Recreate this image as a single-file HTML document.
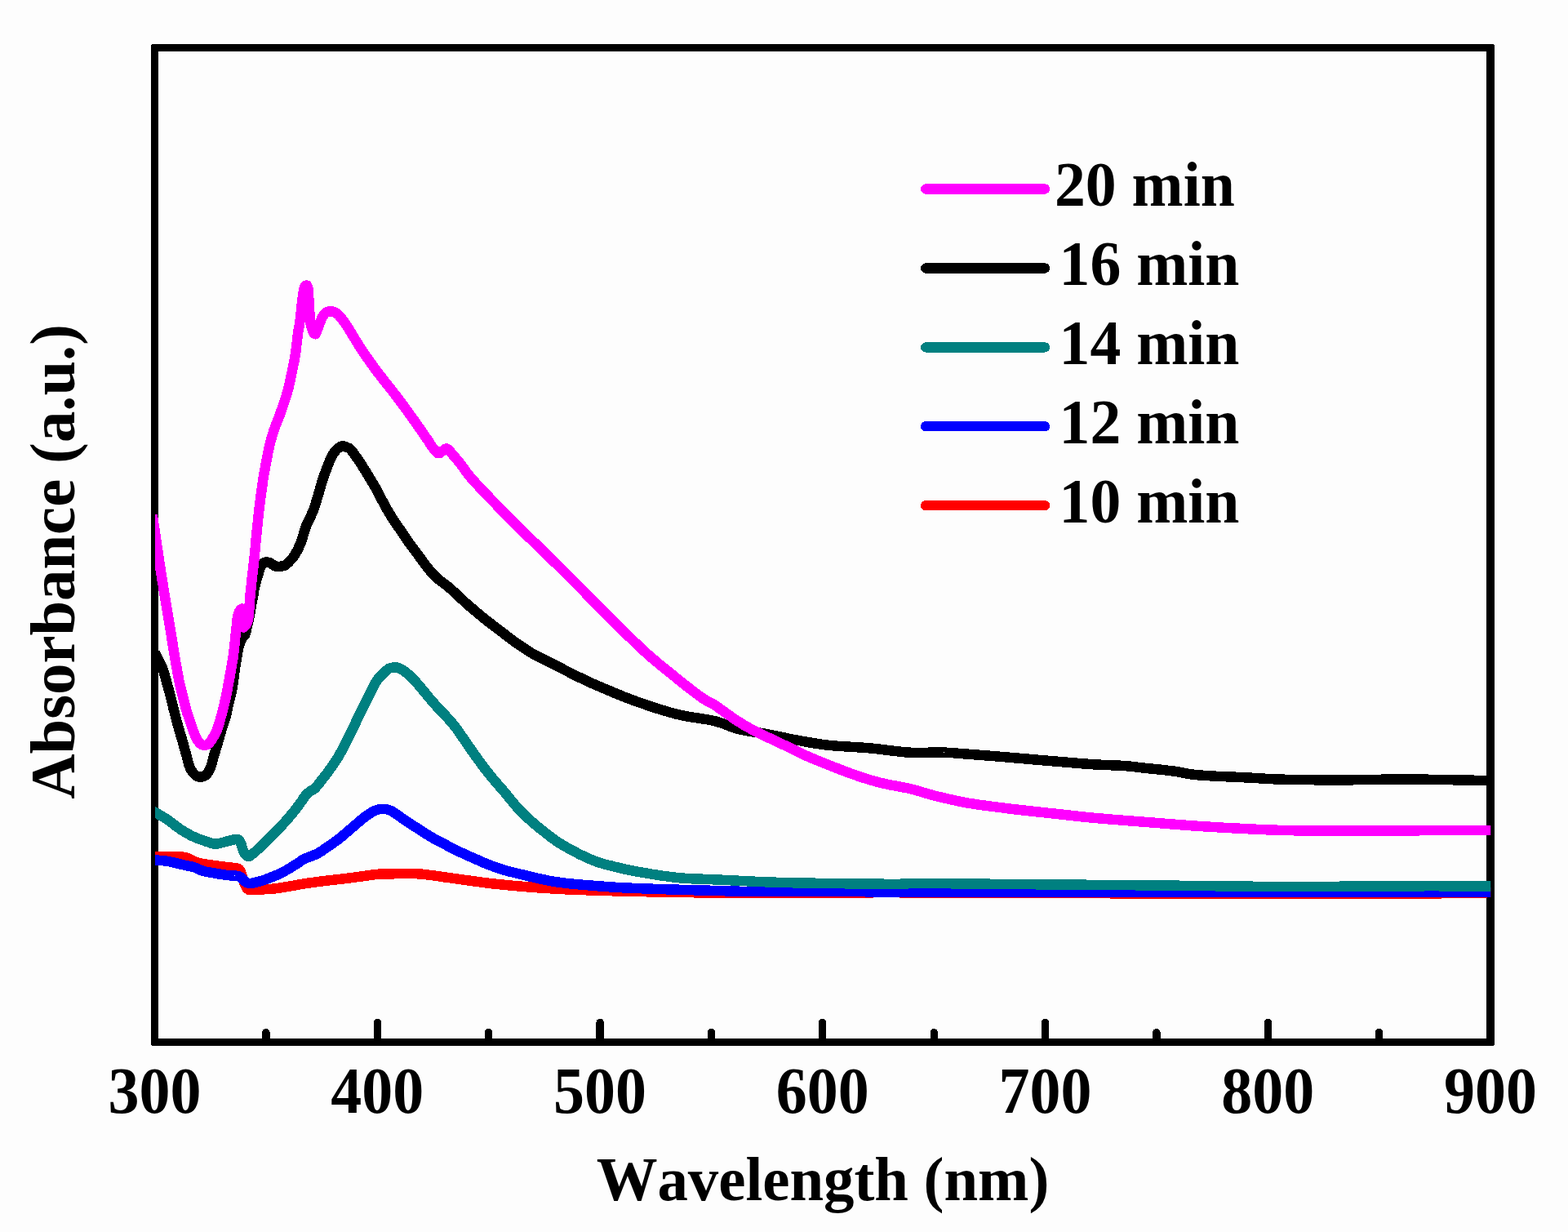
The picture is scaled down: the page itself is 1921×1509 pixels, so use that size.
<!DOCTYPE html>
<html lang="en"><head><meta charset="utf-8"><title>Absorbance vs Wavelength</title>
<style>
html,body{margin:0;padding:0;background:#fdfdfd;}
body{width:1921px;height:1509px;overflow:hidden;}
svg{display:block;}
text{font-family:"Liberation Serif","Times New Roman",serif;font-weight:bold;fill:#000;font-kerning:none;}
</style></head><body>
<svg shape-rendering="crispEdges" width="1921" height="1509" viewBox="0 0 1921 1509">
<rect x="0" y="0" width="1921" height="1509" fill="#fdfdfd"/>
<defs><clipPath id="plot"><rect x="190.0" y="58.35" width="1636.2" height="1218.10"/></clipPath></defs>

<path fill="#000" fill-rule="evenodd" d="M187.4,53.9 H1828.7 Q1830.9,53.9 1830.9,56.1 V1278.7 Q1830.9,1280.9 1828.7,1280.9 H187.4 Q185.2,1280.9 185.2,1278.7 V56.1 Q185.2,53.9 187.4,53.9 Z M193.9,62.8 V1272.0 H1821.1 V62.8 Z"/>
<g stroke="#000" stroke-width="9.3" stroke-linecap="round">
<line x1="325.92" y1="1276.45" x2="325.92" y2="1264.45"/>
<line x1="462.29" y1="1276.45" x2="462.29" y2="1252.35"/>
<line x1="598.66" y1="1276.45" x2="598.66" y2="1264.45"/>
<line x1="735.03" y1="1276.45" x2="735.03" y2="1252.35"/>
<line x1="871.40" y1="1276.45" x2="871.40" y2="1264.45"/>
<line x1="1007.78" y1="1276.45" x2="1007.78" y2="1252.35"/>
<line x1="1144.15" y1="1276.45" x2="1144.15" y2="1264.45"/>
<line x1="1280.52" y1="1276.45" x2="1280.52" y2="1252.35"/>
<line x1="1416.89" y1="1276.45" x2="1416.89" y2="1264.45"/>
<line x1="1553.26" y1="1276.45" x2="1553.26" y2="1252.35"/>
<line x1="1689.63" y1="1276.45" x2="1689.63" y2="1264.45"/>
</g>
<g clip-path="url(#plot)" fill="none" stroke-width="12.5" stroke-linejoin="round" stroke-linecap="butt">
<path stroke="#ff0000" d="M186.0,1049.7 L188.0,1049.7 L190.0,1049.7 L192.0,1049.7 L194.0,1049.7 L196.0,1049.7 L198.0,1049.7 L200.0,1049.7 L202.0,1049.7 L204.0,1049.7 L206.0,1049.7 L208.0,1049.7 L210.0,1049.7 L212.0,1049.7 L214.0,1049.7 L216.0,1049.7 L218.0,1049.6 L220.0,1049.6 L222.0,1049.6 L224.0,1049.7 L225.9,1050.0 L227.9,1050.4 L229.7,1051.1 L231.5,1051.9 L233.3,1052.8 L235.1,1053.7 L236.8,1054.6 L238.7,1055.4 L240.5,1056.1 L242.5,1056.6 L244.4,1057.1 L246.4,1057.5 L248.3,1057.9 L250.3,1058.2 L252.3,1058.5 L254.2,1058.8 L256.2,1059.1 L258.2,1059.4 L260.2,1059.7 L262.2,1059.9 L264.1,1060.2 L266.1,1060.5 L268.1,1060.8 L270.1,1061.0 L272.1,1061.3 L274.1,1061.5 L276.0,1061.8 L278.0,1062.0 L280.0,1062.3 L282.0,1062.5 L284.0,1062.7 L286.0,1062.9 L288.0,1063.0 L289.9,1063.3 L291.9,1063.9 L293.4,1065.1 L294.4,1066.8 L295.2,1068.7 L295.8,1070.6 L296.4,1072.5 L297.0,1074.4 L297.6,1076.3 L298.2,1078.2 L298.7,1080.1 L299.4,1082.0 L300.2,1083.9 L301.1,1085.6 L302.1,1087.3 L303.4,1088.9 L305.1,1089.9 L307.1,1090.2 L309.1,1090.0 L311.1,1090.0 L313.1,1089.9 L315.1,1089.7 L317.1,1089.6 L319.1,1089.5 L321.1,1089.4 L323.0,1089.3 L325.0,1089.2 L327.0,1089.2 L329.0,1089.1 L331.0,1089.0 L333.0,1088.8 L335.0,1088.6 L337.0,1088.4 L339.0,1088.1 L341.0,1087.8 L342.9,1087.5 L344.9,1087.2 L346.9,1086.9 L348.9,1086.5 L350.8,1086.2 L352.8,1085.8 L354.8,1085.5 L356.7,1085.1 L358.7,1084.8 L360.7,1084.5 L362.7,1084.1 L364.6,1083.8 L366.6,1083.4 L368.6,1083.1 L370.5,1082.8 L372.5,1082.5 L374.5,1082.1 L376.5,1081.8 L378.4,1081.5 L380.4,1081.3 L382.4,1081.0 L384.4,1080.7 L386.4,1080.4 L388.3,1080.2 L390.3,1079.9 L392.3,1079.7 L394.3,1079.4 L396.3,1079.2 L398.3,1079.0 L400.3,1078.7 L402.2,1078.5 L404.2,1078.2 L406.2,1078.0 L408.2,1077.8 L410.2,1077.6 L412.2,1077.3 L414.2,1077.1 L416.2,1076.9 L418.1,1076.6 L420.1,1076.4 L422.1,1076.2 L424.1,1075.9 L426.1,1075.7 L428.1,1075.4 L430.1,1075.2 L432.0,1074.9 L434.0,1074.7 L436.0,1074.4 L438.0,1074.1 L440.0,1073.9 L441.9,1073.6 L443.9,1073.3 L445.9,1073.0 L447.9,1072.7 L449.9,1072.4 L451.8,1072.2 L453.8,1071.9 L455.8,1071.6 L457.8,1071.4 L459.8,1071.1 L461.8,1070.9 L463.7,1070.7 L465.7,1070.5 L467.7,1070.4 L469.7,1070.3 L471.7,1070.3 L473.7,1070.3 L475.7,1070.3 L477.7,1070.3 L479.7,1070.3 L481.7,1070.3 L483.7,1070.2 L485.7,1070.2 L487.7,1070.1 L489.7,1070.1 L491.7,1070.0 L493.7,1070.0 L495.7,1069.9 L497.7,1069.9 L499.7,1069.9 L501.7,1069.9 L503.7,1069.9 L505.7,1070.0 L507.7,1070.1 L509.7,1070.2 L511.7,1070.3 L513.7,1070.4 L515.7,1070.6 L517.7,1070.8 L519.7,1071.0 L521.7,1071.2 L523.7,1071.4 L525.6,1071.7 L527.6,1072.0 L529.6,1072.2 L531.6,1072.5 L533.6,1072.8 L535.5,1073.0 L537.5,1073.3 L539.5,1073.6 L541.5,1073.9 L543.5,1074.2 L545.4,1074.5 L547.4,1074.8 L549.4,1075.0 L551.4,1075.3 L553.4,1075.6 L555.3,1075.8 L557.3,1076.1 L559.3,1076.4 L561.3,1076.7 L563.3,1076.9 L565.3,1077.2 L567.2,1077.5 L569.2,1077.8 L571.2,1078.0 L573.2,1078.3 L575.2,1078.6 L577.1,1078.9 L579.1,1079.2 L581.1,1079.4 L583.1,1079.7 L585.1,1080.0 L587.0,1080.2 L589.0,1080.5 L591.0,1080.8 L593.0,1081.0 L595.0,1081.3 L597.0,1081.5 L598.9,1081.8 L600.9,1082.0 L602.9,1082.3 L604.9,1082.5 L606.9,1082.7 L608.9,1082.9 L610.9,1083.1 L612.9,1083.3 L614.8,1083.5 L616.8,1083.7 L618.8,1083.9 L620.8,1084.1 L622.8,1084.3 L624.8,1084.5 L626.8,1084.7 L628.8,1084.9 L630.8,1085.1 L632.8,1085.2 L634.8,1085.4 L636.8,1085.6 L638.7,1085.7 L640.7,1085.9 L642.7,1086.1 L644.7,1086.2 L646.7,1086.4 L648.7,1086.5 L650.7,1086.7 L652.7,1086.8 L654.7,1087.0 L656.7,1087.1 L658.7,1087.3 L660.7,1087.4 L662.7,1087.5 L664.7,1087.7 L666.7,1087.8 L668.7,1087.9 L670.7,1088.1 L672.7,1088.2 L674.7,1088.3 L676.7,1088.4 L678.6,1088.6 L680.6,1088.7 L682.6,1088.8 L684.6,1088.9 L686.6,1089.0 L688.6,1089.1 L690.6,1089.2 L692.6,1089.3 L694.6,1089.4 L696.6,1089.4 L698.6,1089.5 L700.6,1089.6 L702.6,1089.7 L704.6,1089.8 L706.6,1089.9 L708.6,1089.9 L710.6,1090.0 L712.6,1090.1 L714.6,1090.2 L716.6,1090.2 L718.6,1090.3 L720.6,1090.4 L722.6,1090.4 L724.6,1090.5 L726.6,1090.6 L728.6,1090.6 L730.6,1090.7 L732.6,1090.7 L734.6,1090.8 L736.6,1090.9 L738.6,1090.9 L740.6,1091.0 L742.6,1091.0 L744.6,1091.1 L746.6,1091.2 L748.6,1091.2 L750.6,1091.3 L752.6,1091.3 L754.6,1091.4 L756.6,1091.4 L758.6,1091.5 L760.6,1091.5 L762.6,1091.6 L764.6,1091.6 L766.6,1091.7 L768.6,1091.7 L770.6,1091.8 L772.6,1091.8 L774.6,1091.9 L776.6,1091.9 L778.6,1092.0 L780.6,1092.0 L782.6,1092.1 L784.6,1092.1 L786.6,1092.2 L788.6,1092.2 L790.6,1092.2 L792.6,1092.3 L794.6,1092.3 L796.6,1092.4 L798.6,1092.4 L800.6,1092.5 L802.6,1092.5 L804.6,1092.6 L806.6,1092.6 L808.6,1092.6 L810.6,1092.7 L812.6,1092.7 L814.6,1092.8 L816.6,1092.8 L818.6,1092.8 L820.6,1092.9 L822.6,1092.9 L824.6,1092.9 L826.6,1093.0 L828.6,1093.0 L830.6,1093.0 L832.6,1093.1 L834.6,1093.1 L836.6,1093.1 L838.6,1093.1 L840.6,1093.2 L842.6,1093.2 L844.6,1093.2 L846.6,1093.2 L848.6,1093.2 L850.6,1093.3 L852.6,1093.3 L854.6,1093.3 L856.6,1093.3 L858.6,1093.3 L860.6,1093.3 L862.6,1093.3 L864.6,1093.4 L866.6,1093.4 L868.6,1093.4 L870.6,1093.4 L872.6,1093.4 L874.6,1093.4 L876.6,1093.4 L878.6,1093.4 L880.6,1093.4 L882.6,1093.4 L884.6,1093.4 L886.6,1093.4 L888.6,1093.4 L890.6,1093.4 L892.6,1093.4 L894.6,1093.4 L896.6,1093.4 L898.6,1093.4 L900.6,1093.4 L902.6,1093.4 L904.6,1093.4 L906.6,1093.4 L908.6,1093.4 L910.6,1093.3 L912.6,1093.3 L914.6,1093.3 L916.6,1093.3 L918.6,1093.3 L920.6,1093.3 L922.6,1093.3 L924.6,1093.3 L926.6,1093.3 L928.6,1093.3 L930.6,1093.3 L932.6,1093.3 L934.6,1093.3 L936.6,1093.3 L938.6,1093.3 L940.6,1093.3 L942.6,1093.3 L944.6,1093.3 L946.6,1093.3 L948.6,1093.3 L950.6,1093.3 L952.6,1093.3 L954.6,1093.3 L956.6,1093.3 L958.6,1093.3 L960.6,1093.3 L962.6,1093.3 L964.6,1093.3 L966.6,1093.3 L968.6,1093.3 L970.6,1093.3 L972.6,1093.3 L974.6,1093.3 L976.6,1093.3 L978.6,1093.3 L980.6,1093.3 L982.6,1093.3 L984.6,1093.3 L986.6,1093.3 L988.6,1093.3 L990.6,1093.3 L992.6,1093.3 L994.6,1093.3 L996.6,1093.3 L998.6,1093.3 L1000.6,1093.3 L1002.6,1093.3 L1004.6,1093.3 L1006.6,1093.3 L1008.6,1093.3 L1010.6,1093.3 L1012.6,1093.3 L1014.6,1093.3 L1016.6,1093.3 L1018.6,1093.3 L1020.6,1093.3 L1022.6,1093.3 L1024.6,1093.3 L1026.6,1093.3 L1028.6,1093.3 L1030.6,1093.3 L1032.6,1093.3 L1034.6,1093.3 L1036.6,1093.3 L1038.6,1093.3 L1040.6,1093.3 L1042.6,1093.3 L1044.6,1093.3 L1046.6,1093.3 L1048.6,1093.3 L1050.6,1093.3 L1052.6,1093.3 L1054.6,1093.3 L1056.6,1093.3 L1058.6,1093.3 L1060.6,1093.3 L1062.6,1093.3 L1064.6,1093.3 L1066.6,1093.3 L1068.6,1093.3 L1070.6,1093.2 L1072.6,1093.2 L1074.6,1093.2 L1076.6,1093.2 L1078.6,1093.2 L1080.6,1093.2 L1082.6,1093.2 L1084.6,1093.2 L1086.6,1093.2 L1088.6,1093.2 L1090.6,1093.2 L1092.6,1093.2 L1094.6,1093.2 L1096.6,1093.2 L1098.6,1093.2 L1100.6,1093.2 L1102.6,1093.3 L1104.6,1093.3 L1106.6,1093.3 L1108.6,1093.3 L1110.6,1093.3 L1112.6,1093.3 L1114.6,1093.3 L1116.6,1093.3 L1118.6,1093.3 L1120.6,1093.3 L1122.6,1093.3 L1124.6,1093.3 L1126.6,1093.3 L1128.6,1093.3 L1130.6,1093.3 L1132.6,1093.3 L1134.6,1093.3 L1136.6,1093.3 L1138.6,1093.3 L1140.6,1093.3 L1142.6,1093.3 L1144.6,1093.3 L1146.6,1093.3 L1148.6,1093.3 L1150.6,1093.3 L1152.6,1093.3 L1154.6,1093.3 L1156.6,1093.3 L1158.6,1093.3 L1160.6,1093.3 L1162.6,1093.3 L1164.6,1093.3 L1166.6,1093.3 L1168.6,1093.3 L1170.6,1093.3 L1172.6,1093.3 L1174.6,1093.3 L1176.6,1093.3 L1178.6,1093.3 L1180.6,1093.3 L1182.6,1093.4 L1184.6,1093.4 L1186.6,1093.4 L1188.6,1093.4 L1190.6,1093.4 L1192.6,1093.4 L1194.6,1093.4 L1196.6,1093.4 L1198.6,1093.4 L1200.6,1093.4 L1202.6,1093.4 L1204.6,1093.4 L1206.6,1093.4 L1208.6,1093.4 L1210.6,1093.4 L1212.6,1093.4 L1214.6,1093.5 L1216.6,1093.5 L1218.6,1093.5 L1220.6,1093.5 L1222.6,1093.5 L1224.6,1093.5 L1226.6,1093.5 L1228.6,1093.5 L1230.6,1093.5 L1232.6,1093.5 L1234.6,1093.5 L1236.6,1093.5 L1238.6,1093.6 L1240.6,1093.6 L1242.6,1093.6 L1244.6,1093.6 L1246.6,1093.6 L1248.6,1093.6 L1250.6,1093.6 L1252.6,1093.6 L1254.6,1093.6 L1256.6,1093.6 L1258.6,1093.7 L1260.6,1093.7 L1262.6,1093.7 L1264.6,1093.7 L1266.6,1093.7 L1268.6,1093.7 L1270.6,1093.7 L1272.6,1093.7 L1274.6,1093.7 L1276.6,1093.8 L1278.6,1093.8 L1280.6,1093.8 L1282.6,1093.8 L1284.6,1093.8 L1286.6,1093.8 L1288.6,1093.8 L1290.6,1093.8 L1292.6,1093.8 L1294.6,1093.9 L1296.6,1093.9 L1298.6,1093.9 L1300.6,1093.9 L1302.6,1093.9 L1304.6,1093.9 L1306.6,1093.9 L1308.6,1093.9 L1310.6,1093.9 L1312.6,1094.0 L1314.6,1094.0 L1316.6,1094.0 L1318.6,1094.0 L1320.6,1094.0 L1322.6,1094.0 L1324.6,1094.0 L1326.6,1094.0 L1328.6,1094.1 L1330.6,1094.1 L1332.6,1094.1 L1334.6,1094.1 L1336.6,1094.1 L1338.6,1094.1 L1340.6,1094.1 L1342.6,1094.1 L1344.6,1094.2 L1346.6,1094.2 L1348.6,1094.2 L1350.6,1094.2 L1352.6,1094.2 L1354.6,1094.2 L1356.6,1094.2 L1358.6,1094.2 L1360.6,1094.3 L1362.6,1094.3 L1364.6,1094.3 L1366.6,1094.3 L1368.6,1094.3 L1370.6,1094.3 L1372.6,1094.3 L1374.6,1094.3 L1376.6,1094.4 L1378.6,1094.4 L1380.6,1094.4 L1382.6,1094.4 L1384.6,1094.4 L1386.6,1094.4 L1388.6,1094.4 L1390.6,1094.4 L1392.6,1094.5 L1394.6,1094.5 L1396.6,1094.5 L1398.6,1094.5 L1400.6,1094.5 L1402.6,1094.5 L1404.6,1094.5 L1406.6,1094.5 L1408.6,1094.5 L1410.6,1094.6 L1412.6,1094.6 L1414.6,1094.6 L1416.6,1094.6 L1418.6,1094.6 L1420.6,1094.6 L1422.6,1094.6 L1424.6,1094.6 L1426.6,1094.7 L1428.6,1094.7 L1430.6,1094.7 L1432.6,1094.7 L1434.6,1094.7 L1436.6,1094.7 L1438.6,1094.7 L1440.6,1094.7 L1442.6,1094.7 L1444.6,1094.8 L1446.6,1094.8 L1448.6,1094.8 L1450.6,1094.8 L1452.6,1094.8 L1454.6,1094.8 L1456.6,1094.8 L1458.6,1094.8 L1460.6,1094.8 L1462.6,1094.8 L1464.6,1094.9 L1466.6,1094.9 L1468.6,1094.9 L1470.6,1094.9 L1472.6,1094.9 L1474.6,1094.9 L1476.6,1094.9 L1478.6,1094.9 L1480.6,1094.9 L1482.6,1094.9 L1484.6,1094.9 L1486.6,1094.9 L1488.6,1095.0 L1490.6,1095.0 L1492.6,1095.0 L1494.6,1095.0 L1496.6,1095.0 L1498.6,1095.0 L1500.6,1095.0 L1502.6,1095.0 L1504.6,1095.0 L1506.6,1095.0 L1508.6,1095.0 L1510.6,1095.0 L1512.6,1095.0 L1514.6,1095.0 L1516.6,1095.1 L1518.6,1095.1 L1520.6,1095.1 L1522.6,1095.1 L1524.6,1095.1 L1526.6,1095.1 L1528.6,1095.1 L1530.6,1095.1 L1532.6,1095.1 L1534.6,1095.1 L1536.6,1095.1 L1538.6,1095.1 L1540.6,1095.1 L1542.6,1095.1 L1544.6,1095.1 L1546.6,1095.1 L1548.6,1095.1 L1550.6,1095.1 L1552.6,1095.1 L1554.6,1095.2 L1556.6,1095.2 L1558.6,1095.2 L1560.6,1095.2 L1562.6,1095.2 L1564.6,1095.2 L1566.6,1095.2 L1568.6,1095.2 L1570.6,1095.2 L1572.6,1095.2 L1574.6,1095.2 L1576.6,1095.2 L1578.6,1095.2 L1580.6,1095.2 L1582.6,1095.2 L1584.6,1095.2 L1586.6,1095.2 L1588.6,1095.2 L1590.6,1095.2 L1592.6,1095.2 L1594.6,1095.2 L1596.6,1095.2 L1598.6,1095.2 L1600.6,1095.2 L1602.6,1095.2 L1604.6,1095.2 L1606.6,1095.2 L1608.6,1095.2 L1610.6,1095.2 L1612.6,1095.2 L1614.6,1095.2 L1616.6,1095.2 L1618.6,1095.2 L1620.6,1095.2 L1622.6,1095.2 L1624.6,1095.2 L1626.6,1095.2 L1628.6,1095.2 L1630.6,1095.2 L1632.6,1095.2 L1634.6,1095.2 L1636.6,1095.2 L1638.6,1095.2 L1640.6,1095.2 L1642.6,1095.2 L1644.6,1095.2 L1646.6,1095.2 L1648.6,1095.2 L1650.6,1095.2 L1652.6,1095.2 L1654.6,1095.2 L1656.6,1095.2 L1658.6,1095.2 L1660.6,1095.2 L1662.6,1095.2 L1664.6,1095.2 L1666.6,1095.1 L1668.6,1095.1 L1670.6,1095.1 L1672.6,1095.1 L1674.6,1095.1 L1676.6,1095.1 L1678.6,1095.1 L1680.6,1095.1 L1682.6,1095.1 L1684.6,1095.1 L1686.6,1095.1 L1688.6,1095.1 L1690.6,1095.1 L1692.6,1095.0 L1694.6,1095.0 L1696.6,1095.0 L1698.6,1095.0 L1700.6,1095.0 L1702.6,1095.0 L1704.6,1095.0 L1706.6,1095.0 L1708.6,1094.9 L1710.6,1094.9 L1712.6,1094.9 L1714.6,1094.9 L1716.6,1094.9 L1718.6,1094.9 L1720.6,1094.8 L1722.6,1094.8 L1724.6,1094.8 L1726.6,1094.8 L1728.6,1094.7 L1730.6,1094.7 L1732.6,1094.7 L1734.6,1094.7 L1736.6,1094.7 L1738.6,1094.6 L1740.6,1094.6 L1742.6,1094.6 L1744.6,1094.6 L1746.6,1094.5 L1748.6,1094.5 L1750.6,1094.5 L1752.6,1094.4 L1754.6,1094.4 L1756.6,1094.4 L1758.6,1094.3 L1760.6,1094.3 L1762.6,1094.3 L1764.6,1094.3 L1766.6,1094.2 L1768.6,1094.2 L1770.6,1094.2 L1772.6,1094.1 L1774.6,1094.1 L1776.6,1094.1 L1778.6,1094.0 L1780.6,1094.0 L1782.6,1094.0 L1784.6,1093.9 L1786.6,1093.9 L1788.6,1093.8 L1790.6,1093.8 L1792.6,1093.8 L1794.6,1093.7 L1796.6,1093.7 L1798.6,1093.7 L1800.6,1093.6 L1802.6,1093.6 L1804.6,1093.6 L1806.6,1093.5 L1808.6,1093.5 L1810.6,1093.4 L1812.6,1093.4 L1814.6,1093.4 L1816.6,1093.3 L1818.6,1093.3 L1820.6,1093.3 L1822.6,1093.2 L1824.6,1093.2 L1826.6,1093.1 L1828.5,1093.1 L1830.5,1093.1 L1832.4,1093.0 L1834.1,1093.0 L1835.0,1093.0"/>
<path stroke="#0000ff" d="M186.0,1053.5 L188.0,1053.4 L190.0,1053.5 L192.0,1053.6 L194.0,1053.7 L196.0,1053.8 L198.0,1054.0 L200.0,1054.2 L202.0,1054.4 L203.9,1054.7 L205.9,1055.0 L207.9,1055.4 L209.8,1055.8 L211.8,1056.3 L213.7,1056.7 L215.6,1057.2 L217.6,1057.7 L219.5,1058.2 L221.5,1058.7 L223.4,1059.1 L225.4,1059.5 L227.3,1059.9 L229.3,1060.3 L231.3,1060.7 L233.2,1061.1 L235.2,1061.5 L237.1,1062.1 L239.0,1062.7 L240.8,1063.5 L242.6,1064.4 L244.4,1065.2 L246.2,1066.0 L248.1,1066.6 L250.0,1067.1 L251.9,1067.6 L253.9,1068.0 L255.9,1068.3 L257.8,1068.7 L259.8,1069.0 L261.8,1069.3 L263.8,1069.7 L265.7,1070.0 L267.7,1070.4 L269.7,1070.7 L271.6,1071.0 L273.6,1071.3 L275.6,1071.6 L277.6,1071.9 L279.6,1072.1 L281.5,1072.3 L283.5,1072.5 L285.5,1072.6 L287.5,1072.7 L289.5,1072.7 L291.5,1073.0 L293.4,1073.5 L295.1,1074.7 L296.6,1076.0 L297.9,1077.5 L299.3,1078.9 L300.9,1080.1 L302.6,1081.2 L304.4,1081.9 L306.4,1082.0 L308.4,1081.8 L310.4,1081.4 L312.3,1080.9 L314.3,1080.5 L316.2,1080.1 L318.1,1079.5 L320.1,1079.0 L322.0,1078.4 L323.9,1077.7 L325.7,1077.0 L327.6,1076.3 L329.5,1075.6 L331.3,1074.9 L333.2,1074.1 L335.1,1073.4 L336.9,1072.7 L338.8,1071.9 L340.6,1071.2 L342.4,1070.4 L344.3,1069.5 L346.0,1068.6 L347.8,1067.6 L349.5,1066.6 L351.2,1065.6 L353.0,1064.6 L354.7,1063.6 L356.4,1062.5 L358.1,1061.5 L359.8,1060.4 L361.5,1059.3 L363.1,1058.3 L364.8,1057.2 L366.5,1056.1 L368.1,1054.9 L369.8,1053.8 L371.5,1052.8 L373.2,1051.8 L375.0,1051.0 L376.9,1050.3 L378.8,1049.6 L380.7,1049.0 L382.5,1048.3 L384.4,1047.5 L386.2,1046.7 L388.0,1045.9 L389.8,1045.0 L391.5,1044.0 L393.2,1042.9 L394.9,1041.8 L396.5,1040.6 L398.2,1039.5 L399.8,1038.4 L401.5,1037.2 L403.1,1036.1 L404.8,1035.0 L406.4,1033.9 L408.1,1032.7 L409.7,1031.5 L411.3,1030.4 L412.9,1029.2 L414.5,1027.9 L416.1,1026.7 L417.6,1025.4 L419.2,1024.2 L420.7,1022.9 L422.2,1021.6 L423.7,1020.3 L425.3,1019.0 L426.8,1017.7 L428.3,1016.4 L429.8,1015.1 L431.4,1013.8 L432.9,1012.5 L434.4,1011.2 L435.9,1009.9 L437.4,1008.6 L439.0,1007.3 L440.5,1006.0 L442.0,1004.7 L443.5,1003.4 L445.1,1002.2 L446.6,1000.9 L448.2,999.7 L449.8,998.5 L451.5,997.4 L453.2,996.3 L454.9,995.3 L456.6,994.4 L458.4,993.5 L460.2,992.6 L462.1,991.9 L464.0,991.3 L466.0,991.0 L468.0,990.8 L470.0,990.8 L472.0,990.9 L473.9,991.3 L475.8,991.9 L477.7,992.6 L479.5,993.4 L481.3,994.4 L483.0,995.4 L484.7,996.5 L486.3,997.6 L487.9,998.8 L489.6,999.9 L491.2,1001.1 L492.8,1002.3 L494.5,1003.4 L496.1,1004.6 L497.8,1005.7 L499.4,1006.8 L501.1,1007.9 L502.8,1009.0 L504.4,1010.1 L506.1,1011.2 L507.8,1012.3 L509.5,1013.3 L511.2,1014.4 L512.8,1015.5 L514.5,1016.6 L516.2,1017.7 L517.9,1018.7 L519.6,1019.8 L521.3,1020.9 L523.0,1021.9 L524.7,1023.0 L526.4,1024.0 L528.1,1025.1 L529.8,1026.1 L531.6,1027.1 L533.3,1028.0 L535.1,1029.0 L536.8,1029.9 L538.6,1030.9 L540.4,1031.8 L542.1,1032.7 L543.9,1033.6 L545.7,1034.5 L547.5,1035.5 L549.2,1036.4 L551.0,1037.3 L552.8,1038.2 L554.6,1039.1 L556.4,1040.0 L558.1,1040.9 L559.9,1041.8 L561.7,1042.7 L563.5,1043.6 L565.3,1044.4 L567.2,1045.3 L569.0,1046.1 L570.8,1046.9 L572.6,1047.7 L574.5,1048.6 L576.3,1049.4 L578.1,1050.2 L579.9,1051.0 L581.8,1051.8 L583.6,1052.6 L585.4,1053.4 L587.2,1054.3 L589.1,1055.1 L590.9,1055.9 L592.7,1056.7 L594.6,1057.4 L596.4,1058.2 L598.3,1058.9 L600.1,1059.7 L602.0,1060.4 L603.9,1061.1 L605.8,1061.7 L607.7,1062.4 L609.6,1063.1 L611.5,1063.7 L613.4,1064.3 L615.3,1064.9 L617.2,1065.5 L619.1,1066.1 L621.0,1066.6 L622.9,1067.2 L624.9,1067.7 L626.8,1068.1 L628.8,1068.6 L630.7,1069.1 L632.6,1069.5 L634.6,1070.0 L636.5,1070.5 L638.5,1071.0 L640.4,1071.4 L642.4,1071.9 L644.3,1072.4 L646.3,1072.8 L648.2,1073.3 L650.1,1073.8 L652.1,1074.2 L654.0,1074.7 L656.0,1075.1 L657.9,1075.6 L659.9,1076.0 L661.8,1076.4 L663.8,1076.9 L665.8,1077.3 L667.7,1077.7 L669.7,1078.1 L671.6,1078.5 L673.6,1078.9 L675.6,1079.2 L677.5,1079.6 L679.5,1079.9 L681.5,1080.2 L683.5,1080.5 L685.4,1080.8 L687.4,1081.1 L689.4,1081.3 L691.4,1081.6 L693.4,1081.8 L695.4,1082.0 L697.3,1082.3 L699.3,1082.5 L701.3,1082.7 L703.3,1082.8 L705.3,1083.0 L707.3,1083.2 L709.3,1083.4 L711.3,1083.5 L713.3,1083.7 L715.3,1083.9 L717.3,1084.0 L719.3,1084.2 L721.3,1084.3 L723.3,1084.5 L725.2,1084.6 L727.2,1084.8 L729.2,1084.9 L731.2,1085.1 L733.2,1085.3 L735.2,1085.4 L737.2,1085.6 L739.2,1085.7 L741.2,1085.9 L743.2,1086.0 L745.2,1086.2 L747.2,1086.3 L749.2,1086.4 L751.2,1086.6 L753.2,1086.7 L755.2,1086.8 L757.2,1086.9 L759.2,1087.0 L761.2,1087.1 L763.2,1087.3 L765.1,1087.3 L767.1,1087.4 L769.1,1087.5 L771.1,1087.6 L773.1,1087.7 L775.1,1087.8 L777.1,1087.9 L779.1,1088.0 L781.1,1088.0 L783.1,1088.1 L785.1,1088.2 L787.1,1088.3 L789.1,1088.3 L791.1,1088.4 L793.1,1088.5 L795.1,1088.6 L797.1,1088.6 L799.1,1088.7 L801.1,1088.8 L803.1,1088.8 L805.1,1088.9 L807.1,1089.0 L809.1,1089.0 L811.1,1089.1 L813.1,1089.2 L815.1,1089.2 L817.1,1089.3 L819.1,1089.3 L821.1,1089.4 L823.1,1089.5 L825.1,1089.5 L827.1,1089.6 L829.1,1089.7 L831.1,1089.7 L833.1,1089.8 L835.1,1089.8 L837.1,1089.9 L839.1,1089.9 L841.1,1090.0 L843.1,1090.1 L845.1,1090.1 L847.1,1090.2 L849.1,1090.2 L851.1,1090.3 L853.1,1090.3 L855.1,1090.4 L857.1,1090.4 L859.1,1090.5 L861.1,1090.5 L863.1,1090.6 L865.1,1090.6 L867.1,1090.7 L869.1,1090.7 L871.1,1090.8 L873.1,1090.8 L875.1,1090.9 L877.1,1090.9 L879.1,1091.0 L881.1,1091.0 L883.1,1091.1 L885.1,1091.1 L887.1,1091.2 L889.1,1091.3 L891.1,1091.3 L893.1,1091.4 L895.1,1091.5 L897.1,1091.6 L899.1,1091.7 L901.1,1091.7 L903.1,1091.7 L905.1,1091.7 L907.1,1091.8 L909.1,1091.8 L911.1,1091.8 L913.1,1091.8 L915.1,1091.8 L917.1,1091.8 L919.1,1091.8 L921.1,1091.8 L923.1,1091.9 L925.1,1091.9 L927.1,1091.9 L929.1,1091.9 L931.1,1091.9 L933.1,1091.9 L935.1,1091.9 L937.1,1091.9 L939.1,1091.9 L941.1,1091.9 L943.1,1091.9 L945.1,1091.9 L947.1,1092.0 L949.1,1092.0 L951.1,1092.0 L953.1,1092.0 L955.1,1092.0 L957.1,1092.0 L959.1,1092.0 L961.1,1092.0 L963.1,1092.0 L965.1,1092.0 L967.1,1092.0 L969.1,1092.0 L971.1,1092.0 L973.1,1092.0 L975.1,1092.0 L977.1,1092.1 L979.1,1092.1 L981.1,1092.1 L983.1,1092.1 L985.1,1092.1 L987.1,1092.1 L989.1,1092.1 L991.1,1092.1 L993.1,1092.1 L995.1,1092.1 L997.1,1092.1 L999.1,1092.1 L1001.1,1092.1 L1003.1,1092.1 L1005.1,1092.1 L1007.1,1092.1 L1009.1,1092.1 L1011.1,1092.1 L1013.1,1092.1 L1015.1,1092.2 L1017.1,1092.2 L1019.1,1092.2 L1021.1,1092.2 L1023.1,1092.2 L1025.1,1092.2 L1027.1,1092.2 L1029.1,1092.2 L1031.1,1092.2 L1033.1,1092.2 L1035.1,1092.2 L1037.1,1092.2 L1039.1,1092.2 L1041.1,1092.2 L1043.1,1092.2 L1045.1,1092.2 L1047.1,1092.2 L1049.1,1092.2 L1051.1,1092.2 L1053.1,1092.2 L1055.1,1092.2 L1057.1,1092.2 L1059.1,1092.2 L1061.1,1092.3 L1063.1,1092.3 L1065.1,1092.3 L1067.1,1092.3 L1069.1,1092.3 L1071.1,1092.3 L1073.1,1092.3 L1075.1,1092.3 L1077.1,1092.3 L1079.1,1092.3 L1081.1,1092.3 L1083.1,1092.3 L1085.1,1092.3 L1087.1,1092.3 L1089.1,1092.3 L1091.1,1092.3 L1093.1,1092.3 L1095.1,1092.3 L1097.1,1092.3 L1099.1,1092.3 L1101.1,1092.3 L1103.1,1092.3 L1105.1,1092.3 L1107.1,1092.3 L1109.1,1092.3 L1111.1,1092.3 L1113.1,1092.4 L1115.1,1092.4 L1117.1,1092.4 L1119.1,1092.4 L1121.1,1092.4 L1123.1,1092.4 L1125.1,1092.4 L1127.1,1092.4 L1129.1,1092.4 L1131.1,1092.4 L1133.1,1092.4 L1135.1,1092.4 L1137.1,1092.4 L1139.1,1092.4 L1141.1,1092.4 L1143.1,1092.4 L1145.1,1092.4 L1147.1,1092.4 L1149.1,1092.4 L1151.1,1092.4 L1153.1,1092.4 L1155.1,1092.4 L1157.1,1092.4 L1159.1,1092.4 L1161.1,1092.4 L1163.1,1092.4 L1165.1,1092.4 L1167.1,1092.4 L1169.1,1092.4 L1171.1,1092.5 L1173.1,1092.5 L1175.1,1092.5 L1177.1,1092.5 L1179.1,1092.5 L1181.1,1092.5 L1183.1,1092.5 L1185.1,1092.5 L1187.1,1092.5 L1189.1,1092.5 L1191.1,1092.5 L1193.1,1092.5 L1195.1,1092.5 L1197.1,1092.5 L1199.1,1092.5 L1201.1,1092.5 L1203.1,1092.5 L1205.1,1092.5 L1207.1,1092.5 L1209.1,1092.5 L1211.1,1092.5 L1213.1,1092.5 L1215.1,1092.5 L1217.1,1092.5 L1219.1,1092.5 L1221.1,1092.5 L1223.1,1092.5 L1225.1,1092.5 L1227.1,1092.5 L1229.1,1092.5 L1231.1,1092.5 L1233.1,1092.6 L1235.1,1092.6 L1237.1,1092.6 L1239.1,1092.6 L1241.1,1092.6 L1243.1,1092.6 L1245.1,1092.6 L1247.1,1092.6 L1249.1,1092.6 L1251.1,1092.6 L1253.1,1092.6 L1255.1,1092.6 L1257.1,1092.6 L1259.1,1092.6 L1261.1,1092.6 L1263.1,1092.6 L1265.1,1092.6 L1267.1,1092.6 L1269.1,1092.6 L1271.1,1092.6 L1273.1,1092.6 L1275.1,1092.6 L1277.1,1092.6 L1279.1,1092.6 L1281.1,1092.6 L1283.1,1092.6 L1285.1,1092.6 L1287.1,1092.6 L1289.1,1092.6 L1291.1,1092.6 L1293.1,1092.6 L1295.1,1092.6 L1297.1,1092.6 L1299.1,1092.6 L1301.1,1092.6 L1303.1,1092.7 L1305.1,1092.7 L1307.1,1092.7 L1309.1,1092.7 L1311.1,1092.7 L1313.1,1092.7 L1315.1,1092.7 L1317.1,1092.7 L1319.1,1092.7 L1321.1,1092.7 L1323.1,1092.7 L1325.1,1092.7 L1327.1,1092.7 L1329.1,1092.7 L1331.1,1092.7 L1333.1,1092.7 L1335.1,1092.7 L1337.1,1092.7 L1339.1,1092.7 L1341.1,1092.7 L1343.1,1092.7 L1345.1,1092.7 L1347.1,1092.7 L1349.1,1092.7 L1351.1,1092.7 L1353.1,1092.7 L1355.1,1092.7 L1357.1,1092.7 L1359.1,1092.7 L1361.1,1092.7 L1363.1,1092.7 L1365.1,1092.7 L1367.1,1092.7 L1369.1,1092.7 L1371.1,1092.7 L1373.1,1092.7 L1375.1,1092.7 L1377.1,1092.7 L1379.1,1092.8 L1381.1,1092.8 L1383.1,1092.8 L1385.1,1092.8 L1387.1,1092.8 L1389.1,1092.8 L1391.1,1092.8 L1393.1,1092.8 L1395.1,1092.8 L1397.1,1092.8 L1399.1,1092.8 L1401.1,1092.8 L1403.1,1092.8 L1405.1,1092.8 L1407.1,1092.8 L1409.1,1092.8 L1411.1,1092.8 L1413.1,1092.8 L1415.1,1092.8 L1417.1,1092.8 L1419.1,1092.8 L1421.1,1092.8 L1423.1,1092.8 L1425.1,1092.8 L1427.1,1092.8 L1429.1,1092.8 L1431.1,1092.8 L1433.1,1092.8 L1435.1,1092.8 L1437.1,1092.8 L1439.1,1092.8 L1441.1,1092.8 L1443.1,1092.8 L1445.1,1092.8 L1447.1,1092.8 L1449.1,1092.8 L1451.1,1092.8 L1453.1,1092.8 L1455.1,1092.8 L1457.1,1092.8 L1459.1,1092.8 L1461.1,1092.8 L1463.1,1092.8 L1465.1,1092.8 L1467.1,1092.8 L1469.1,1092.8 L1471.1,1092.8 L1473.1,1092.9 L1475.1,1092.9 L1477.1,1092.9 L1479.1,1092.9 L1481.1,1092.9 L1483.1,1092.9 L1485.1,1092.9 L1487.1,1092.9 L1489.1,1092.9 L1491.1,1092.9 L1493.1,1092.9 L1495.1,1092.9 L1497.1,1092.9 L1499.1,1092.9 L1501.1,1092.9 L1503.1,1092.9 L1505.1,1092.9 L1507.1,1092.9 L1509.1,1092.9 L1511.1,1092.9 L1513.1,1092.9 L1515.1,1092.9 L1517.1,1092.9 L1519.1,1092.9 L1521.1,1092.9 L1523.1,1092.9 L1525.1,1092.9 L1527.1,1092.9 L1529.1,1092.9 L1531.1,1092.9 L1533.1,1092.9 L1535.1,1092.9 L1537.1,1092.9 L1539.1,1092.9 L1541.1,1092.9 L1543.1,1092.9 L1545.1,1092.9 L1547.1,1092.9 L1549.1,1092.9 L1551.1,1092.9 L1553.1,1092.9 L1555.1,1092.9 L1557.1,1092.9 L1559.1,1092.9 L1561.1,1092.9 L1563.1,1092.9 L1565.1,1092.9 L1567.1,1092.9 L1569.1,1092.9 L1571.1,1092.9 L1573.1,1092.9 L1575.1,1092.9 L1577.1,1092.9 L1579.1,1092.9 L1581.1,1092.9 L1583.1,1092.9 L1585.1,1092.9 L1587.1,1092.9 L1589.1,1092.9 L1591.1,1092.9 L1593.1,1092.9 L1595.1,1092.9 L1597.1,1092.9 L1599.1,1092.9 L1601.1,1092.9 L1603.1,1092.9 L1605.1,1092.9 L1607.1,1092.9 L1609.1,1092.9 L1611.1,1092.9 L1613.1,1092.9 L1615.1,1092.9 L1617.1,1092.9 L1619.1,1092.9 L1621.1,1092.9 L1623.1,1092.9 L1625.1,1092.9 L1627.1,1092.9 L1629.1,1092.9 L1631.1,1092.9 L1633.1,1092.9 L1635.1,1092.9 L1637.1,1092.9 L1639.1,1092.9 L1641.1,1092.9 L1643.1,1092.9 L1645.1,1092.9 L1647.1,1092.9 L1649.1,1092.9 L1651.1,1092.9 L1653.1,1092.9 L1655.1,1092.9 L1657.1,1093.0 L1659.1,1093.0 L1661.1,1093.0 L1663.1,1093.0 L1665.1,1093.0 L1667.1,1093.0 L1669.1,1093.0 L1671.1,1093.0 L1673.1,1093.0 L1675.1,1093.0 L1677.1,1093.0 L1679.1,1093.0 L1681.1,1093.0 L1683.1,1093.0 L1685.1,1093.0 L1687.1,1093.0 L1689.1,1093.0 L1691.1,1093.0 L1693.1,1093.0 L1695.1,1093.0 L1697.1,1093.0 L1699.1,1093.0 L1701.1,1093.0 L1703.1,1093.0 L1705.1,1093.0 L1707.1,1093.0 L1709.1,1093.0 L1711.1,1093.0 L1713.1,1093.0 L1715.1,1093.0 L1717.1,1093.0 L1719.1,1093.0 L1721.1,1093.0 L1723.1,1093.0 L1725.1,1093.0 L1727.1,1093.0 L1729.1,1093.0 L1731.1,1093.0 L1733.1,1093.0 L1735.1,1093.0 L1737.1,1093.0 L1739.1,1093.0 L1741.1,1093.0 L1743.1,1093.0 L1745.1,1093.0 L1747.1,1093.0 L1749.1,1093.0 L1751.1,1093.0 L1753.1,1093.0 L1755.1,1093.0 L1757.1,1093.0 L1759.1,1093.0 L1761.1,1093.0 L1763.1,1093.0 L1765.1,1093.0 L1767.1,1093.0 L1769.1,1093.0 L1771.1,1093.0 L1773.1,1093.0 L1775.1,1093.0 L1777.1,1093.0 L1779.1,1093.0 L1781.1,1093.0 L1783.1,1093.0 L1785.1,1093.0 L1787.1,1093.0 L1789.1,1093.0 L1791.1,1093.0 L1793.1,1093.0 L1795.1,1093.0 L1797.1,1093.0 L1799.1,1093.0 L1801.1,1093.0 L1803.1,1093.0 L1805.1,1093.0 L1807.1,1093.0 L1809.1,1093.0 L1811.1,1093.0 L1813.1,1093.0 L1815.1,1093.0 L1817.1,1093.0 L1819.1,1093.0 L1821.1,1093.0 L1823.1,1093.0 L1825.1,1093.0 L1827.1,1093.0 L1829.1,1093.0 L1831.1,1093.0 L1833.0,1093.0 L1835.0,1093.0"/>
<path stroke="#008080" d="M186.0,992.5 L187.7,993.6 L189.4,994.6 L191.1,995.6 L192.9,996.6 L194.6,997.6 L196.3,998.6 L198.1,999.6 L199.8,1000.6 L201.5,1001.6 L203.2,1002.7 L204.9,1003.8 L206.5,1004.9 L208.2,1006.1 L209.8,1007.3 L211.3,1008.5 L212.9,1009.7 L214.5,1010.9 L216.1,1012.2 L217.7,1013.4 L219.3,1014.5 L220.9,1015.7 L222.6,1016.8 L224.3,1017.8 L226.0,1018.9 L227.7,1019.9 L229.5,1020.9 L231.2,1021.8 L233.0,1022.8 L234.8,1023.7 L236.6,1024.5 L238.4,1025.4 L240.2,1026.2 L242.1,1026.9 L243.9,1027.6 L245.8,1028.3 L247.7,1029.0 L249.6,1029.6 L251.5,1030.3 L253.4,1030.9 L255.3,1031.5 L257.2,1032.2 L259.1,1032.8 L261.0,1033.3 L262.9,1033.5 L264.9,1033.5 L266.9,1033.3 L268.8,1033.0 L270.7,1032.5 L272.7,1032.0 L274.6,1031.5 L276.5,1030.9 L278.5,1030.4 L280.4,1029.9 L282.3,1029.4 L284.3,1028.9 L286.2,1028.4 L288.2,1028.1 L290.2,1028.0 L292.1,1028.6 L293.5,1030.0 L294.6,1031.7 L295.4,1033.5 L295.9,1035.4 L296.4,1037.4 L297.0,1039.3 L297.7,1041.2 L298.5,1043.0 L299.4,1044.8 L300.5,1046.5 L301.8,1047.9 L303.5,1049.0 L305.4,1049.0 L307.1,1047.9 L308.6,1046.6 L310.2,1045.4 L311.7,1044.1 L313.3,1042.8 L314.7,1041.4 L316.2,1040.1 L317.7,1038.7 L319.1,1037.3 L320.5,1035.9 L322.0,1034.5 L323.4,1033.1 L324.8,1031.7 L326.2,1030.3 L327.6,1028.9 L329.0,1027.4 L330.4,1026.0 L331.8,1024.6 L333.2,1023.2 L334.7,1021.7 L336.1,1020.3 L337.5,1018.9 L338.9,1017.5 L340.3,1016.1 L341.7,1014.7 L343.1,1013.2 L344.5,1011.8 L345.9,1010.3 L347.2,1008.9 L348.5,1007.4 L349.9,1005.9 L351.2,1004.4 L352.5,1002.9 L353.8,1001.4 L355.1,999.8 L356.4,998.3 L357.7,996.8 L359.0,995.3 L360.3,993.7 L361.5,992.1 L362.7,990.6 L363.9,989.0 L365.1,987.4 L366.3,985.7 L367.5,984.1 L368.6,982.5 L369.8,980.9 L370.9,979.2 L372.0,977.5 L373.1,975.9 L374.3,974.2 L375.6,972.7 L377.0,971.4 L378.7,970.2 L380.3,969.1 L382.0,968.0 L383.8,967.1 L385.4,965.9 L386.8,964.5 L388.1,963.0 L389.4,961.4 L390.7,959.9 L391.9,958.3 L393.1,956.7 L394.3,955.1 L395.5,953.6 L396.8,952.0 L398.0,950.4 L399.3,948.9 L400.5,947.3 L401.7,945.7 L402.9,944.1 L404.0,942.4 L405.2,940.8 L406.3,939.2 L407.5,937.5 L408.6,935.9 L409.7,934.2 L410.9,932.6 L411.9,930.9 L413.0,929.2 L414.1,927.5 L415.1,925.8 L416.1,924.1 L417.1,922.3 L418.1,920.6 L419.1,918.8 L420.0,917.1 L420.9,915.3 L421.9,913.5 L422.8,911.8 L423.7,910.0 L424.6,908.2 L425.5,906.4 L426.4,904.6 L427.3,902.8 L428.2,901.1 L429.1,899.3 L430.0,897.5 L430.8,895.7 L431.7,893.8 L432.5,892.0 L433.4,890.2 L434.2,888.4 L435.0,886.6 L435.9,884.8 L436.7,882.9 L437.5,881.1 L438.4,879.3 L439.2,877.5 L440.1,875.7 L441.0,873.9 L441.8,872.1 L442.7,870.3 L443.6,868.5 L444.5,866.7 L445.4,865.0 L446.3,863.2 L447.2,861.4 L448.2,859.6 L449.1,857.8 L450.0,856.1 L450.9,854.3 L451.8,852.5 L452.7,850.7 L453.6,848.9 L454.5,847.1 L455.4,845.3 L456.3,843.6 L457.2,841.8 L458.1,840.0 L459.0,838.2 L459.9,836.4 L461.0,834.7 L462.0,833.0 L463.2,831.4 L464.5,829.9 L465.9,828.5 L467.3,827.1 L468.7,825.7 L470.1,824.3 L471.6,822.9 L473.0,821.5 L474.6,820.3 L476.2,819.1 L478.0,818.3 L480.0,817.8 L481.9,817.4 L483.9,817.3 L485.9,817.5 L487.8,818.1 L489.7,818.8 L491.5,819.6 L493.2,820.6 L494.9,821.7 L496.5,822.9 L498.0,824.2 L499.6,825.5 L501.1,826.8 L502.6,828.1 L504.0,829.5 L505.4,830.9 L506.8,832.3 L508.2,833.8 L509.5,835.3 L510.9,836.8 L512.2,838.3 L513.5,839.8 L514.8,841.3 L516.0,842.9 L517.3,844.4 L518.6,845.9 L519.9,847.5 L521.1,849.0 L522.4,850.6 L523.7,852.1 L525.0,853.7 L526.2,855.2 L527.5,856.7 L528.8,858.2 L530.1,859.7 L531.5,861.2 L532.8,862.7 L534.1,864.2 L535.5,865.7 L536.8,867.2 L538.2,868.7 L539.6,870.1 L541.0,871.4 L542.4,872.9 L543.8,874.3 L545.2,875.8 L546.5,877.3 L547.8,878.8 L549.2,880.3 L550.5,881.8 L551.8,883.3 L553.1,884.8 L554.4,886.3 L555.7,887.8 L557.0,889.4 L558.2,891.0 L559.4,892.6 L560.6,894.2 L561.7,895.8 L562.9,897.5 L564.0,899.1 L565.1,900.8 L566.2,902.4 L567.4,904.1 L568.5,905.7 L569.6,907.4 L570.8,909.0 L571.9,910.7 L573.0,912.3 L574.2,914.0 L575.3,915.6 L576.5,917.2 L577.6,918.9 L578.7,920.5 L579.9,922.1 L581.1,923.8 L582.2,925.4 L583.4,927.0 L584.5,928.7 L585.7,930.3 L586.9,931.9 L588.1,933.5 L589.2,935.1 L590.4,936.7 L591.6,938.3 L592.8,939.9 L594.1,941.5 L595.3,943.1 L596.5,944.7 L597.8,946.2 L599.0,947.8 L600.3,949.4 L601.5,950.9 L602.8,952.5 L604.1,954.0 L605.4,955.5 L606.7,957.1 L608.0,958.6 L609.3,960.1 L610.6,961.6 L611.9,963.1 L613.3,964.6 L614.6,966.1 L615.9,967.6 L617.2,969.1 L618.5,970.6 L619.7,972.2 L621.0,973.7 L622.3,975.3 L623.5,976.8 L624.8,978.4 L626.0,979.9 L627.3,981.5 L628.6,983.0 L629.9,984.6 L631.2,986.1 L632.5,987.6 L633.8,989.1 L635.2,990.5 L636.6,992.0 L638.0,993.4 L639.4,994.8 L640.8,996.3 L642.2,997.7 L643.6,999.0 L645.1,1000.4 L646.5,1001.8 L648.0,1003.2 L649.5,1004.5 L651.0,1005.9 L652.5,1007.2 L654.0,1008.5 L655.5,1009.8 L657.0,1011.1 L658.6,1012.4 L660.1,1013.6 L661.7,1014.9 L663.2,1016.1 L664.8,1017.4 L666.4,1018.6 L667.9,1019.9 L669.5,1021.1 L671.1,1022.3 L672.7,1023.5 L674.3,1024.8 L675.9,1026.0 L677.5,1027.2 L679.1,1028.3 L680.7,1029.5 L682.4,1030.6 L684.0,1031.7 L685.7,1032.8 L687.4,1033.9 L689.1,1034.9 L690.8,1035.9 L692.6,1036.9 L694.3,1037.9 L696.1,1038.8 L697.8,1039.8 L699.6,1040.8 L701.3,1041.7 L703.1,1042.7 L704.9,1043.6 L706.6,1044.5 L708.4,1045.5 L710.2,1046.4 L712.0,1047.3 L713.8,1048.1 L715.6,1049.0 L717.4,1049.8 L719.2,1050.7 L721.0,1051.5 L722.9,1052.3 L724.7,1053.0 L726.6,1053.8 L728.4,1054.5 L730.3,1055.2 L732.2,1055.9 L734.1,1056.5 L736.0,1057.1 L737.9,1057.7 L739.8,1058.3 L741.8,1058.8 L743.7,1059.3 L745.6,1059.8 L747.6,1060.2 L749.5,1060.7 L751.5,1061.2 L753.4,1061.7 L755.4,1062.1 L757.3,1062.6 L759.2,1063.1 L761.2,1063.6 L763.1,1064.0 L765.1,1064.5 L767.0,1064.9 L769.0,1065.3 L770.9,1065.7 L772.9,1066.1 L774.9,1066.5 L776.8,1066.9 L778.8,1067.3 L780.8,1067.6 L782.7,1068.0 L784.7,1068.3 L786.7,1068.7 L788.6,1069.0 L790.6,1069.3 L792.6,1069.7 L794.6,1070.0 L796.5,1070.3 L798.5,1070.7 L800.5,1071.0 L802.5,1071.3 L804.4,1071.6 L806.4,1071.9 L808.4,1072.2 L810.4,1072.5 L812.3,1072.8 L814.3,1073.1 L816.3,1073.3 L818.3,1073.6 L820.3,1073.9 L822.3,1074.1 L824.2,1074.4 L826.2,1074.6 L828.2,1074.8 L830.2,1075.0 L832.2,1075.2 L834.2,1075.4 L836.2,1075.5 L838.2,1075.7 L840.2,1075.8 L842.2,1076.0 L844.2,1076.1 L846.2,1076.2 L848.2,1076.3 L850.2,1076.4 L852.2,1076.5 L854.1,1076.5 L856.1,1076.6 L858.1,1076.7 L860.1,1076.7 L862.1,1076.8 L864.1,1076.9 L866.1,1077.0 L868.1,1077.0 L870.1,1077.1 L872.1,1077.2 L874.1,1077.3 L876.1,1077.3 L878.1,1077.4 L880.1,1077.5 L882.1,1077.6 L884.1,1077.7 L886.1,1077.8 L888.1,1077.9 L890.1,1078.0 L892.1,1078.1 L894.1,1078.2 L896.1,1078.3 L898.1,1078.4 L900.1,1078.5 L902.1,1078.6 L904.1,1078.7 L906.1,1078.8 L908.1,1078.9 L910.1,1079.0 L912.1,1079.1 L914.1,1079.2 L916.1,1079.3 L918.1,1079.4 L920.1,1079.5 L922.1,1079.6 L924.1,1079.7 L926.1,1079.8 L928.1,1079.9 L930.1,1080.0 L932.1,1080.1 L934.1,1080.1 L936.1,1080.2 L938.1,1080.3 L940.1,1080.4 L942.1,1080.5 L944.1,1080.5 L946.1,1080.6 L948.1,1080.7 L950.1,1080.7 L952.1,1080.8 L954.1,1080.8 L956.1,1080.9 L958.1,1080.9 L960.1,1081.0 L962.1,1081.0 L964.1,1081.1 L966.1,1081.1 L968.0,1081.2 L970.0,1081.2 L972.0,1081.3 L974.0,1081.3 L976.0,1081.4 L978.0,1081.4 L980.0,1081.4 L982.0,1081.5 L984.0,1081.5 L986.0,1081.5 L988.0,1081.6 L990.0,1081.6 L992.0,1081.6 L994.0,1081.7 L996.0,1081.7 L998.0,1081.7 L1000.0,1081.8 L1002.0,1081.8 L1004.0,1081.8 L1006.0,1081.9 L1008.0,1081.9 L1010.0,1081.9 L1012.0,1082.0 L1014.0,1082.0 L1016.0,1082.0 L1018.0,1082.0 L1020.0,1082.1 L1022.0,1082.1 L1024.0,1082.1 L1026.0,1082.1 L1028.0,1082.2 L1030.0,1082.2 L1032.0,1082.2 L1034.0,1082.2 L1036.0,1082.3 L1038.0,1082.3 L1040.0,1082.3 L1042.0,1082.3 L1044.0,1082.4 L1046.0,1082.4 L1048.0,1082.4 L1050.0,1082.4 L1052.0,1082.5 L1054.0,1082.5 L1056.0,1082.5 L1058.0,1082.5 L1060.0,1082.5 L1062.0,1082.6 L1064.0,1082.6 L1066.0,1082.6 L1068.0,1082.6 L1070.0,1082.6 L1072.0,1082.7 L1074.0,1082.7 L1076.0,1082.7 L1078.0,1082.7 L1080.0,1082.7 L1082.0,1082.7 L1084.0,1082.8 L1086.0,1082.8 L1088.0,1082.8 L1090.0,1082.8 L1092.0,1082.8 L1094.0,1082.8 L1096.0,1082.8 L1098.0,1082.8 L1100.0,1082.8 L1102.0,1082.8 L1104.0,1082.7 L1106.0,1082.6 L1108.0,1082.5 L1110.0,1082.4 L1112.0,1082.3 L1114.0,1082.2 L1116.0,1082.1 L1118.0,1082.1 L1120.0,1082.0 L1122.0,1082.0 L1124.0,1082.0 L1126.0,1082.0 L1128.0,1082.0 L1130.0,1082.0 L1132.0,1082.0 L1134.0,1082.0 L1136.0,1082.0 L1138.0,1082.0 L1140.0,1082.1 L1142.0,1082.1 L1144.0,1082.1 L1146.0,1082.1 L1148.0,1082.1 L1150.0,1082.1 L1152.0,1082.1 L1154.0,1082.2 L1156.0,1082.2 L1158.0,1082.2 L1160.0,1082.2 L1162.0,1082.2 L1164.0,1082.2 L1166.0,1082.3 L1168.0,1082.3 L1170.0,1082.3 L1172.0,1082.3 L1174.0,1082.3 L1176.0,1082.4 L1178.0,1082.4 L1180.0,1082.4 L1182.0,1082.4 L1184.0,1082.5 L1186.0,1082.5 L1188.0,1082.5 L1190.0,1082.5 L1192.0,1082.5 L1194.0,1082.6 L1196.0,1082.6 L1198.0,1082.6 L1200.0,1082.6 L1202.0,1082.6 L1204.0,1082.7 L1206.0,1082.7 L1208.0,1082.7 L1210.0,1082.7 L1212.0,1082.7 L1214.0,1082.8 L1216.0,1082.8 L1218.0,1082.8 L1220.0,1082.8 L1222.0,1082.8 L1224.0,1082.9 L1226.0,1082.9 L1228.0,1082.9 L1230.0,1082.9 L1232.0,1082.9 L1234.0,1082.9 L1236.0,1083.0 L1238.0,1083.0 L1240.0,1083.0 L1242.0,1083.0 L1244.0,1083.0 L1246.0,1083.1 L1248.0,1083.1 L1250.0,1083.1 L1252.0,1083.1 L1254.0,1083.1 L1256.0,1083.1 L1258.0,1083.2 L1260.0,1083.2 L1262.0,1083.2 L1264.0,1083.2 L1266.0,1083.2 L1268.0,1083.2 L1270.0,1083.3 L1272.0,1083.3 L1274.0,1083.3 L1276.0,1083.3 L1278.0,1083.3 L1280.0,1083.3 L1282.0,1083.3 L1284.0,1083.4 L1286.0,1083.4 L1288.0,1083.4 L1290.0,1083.4 L1292.0,1083.4 L1294.0,1083.4 L1296.0,1083.5 L1298.0,1083.5 L1300.0,1083.5 L1302.0,1083.5 L1304.0,1083.5 L1306.0,1083.5 L1308.0,1083.6 L1310.0,1083.6 L1312.0,1083.6 L1314.0,1083.6 L1316.0,1083.6 L1318.0,1083.6 L1320.0,1083.7 L1322.0,1083.7 L1324.0,1083.7 L1326.0,1083.7 L1328.0,1083.7 L1330.0,1083.7 L1332.0,1083.8 L1334.0,1083.8 L1336.0,1083.8 L1338.0,1083.8 L1340.0,1083.8 L1342.0,1083.8 L1344.0,1083.9 L1346.0,1083.9 L1348.0,1083.9 L1350.0,1083.9 L1352.0,1083.9 L1354.0,1083.9 L1356.0,1084.0 L1358.0,1084.0 L1360.0,1084.0 L1362.0,1084.0 L1364.0,1084.0 L1366.0,1084.0 L1368.0,1084.1 L1370.0,1084.1 L1372.0,1084.1 L1374.0,1084.1 L1376.0,1084.1 L1378.0,1084.1 L1380.0,1084.2 L1382.0,1084.2 L1384.0,1084.2 L1386.0,1084.2 L1388.0,1084.2 L1390.0,1084.2 L1392.0,1084.3 L1394.0,1084.3 L1396.0,1084.3 L1398.0,1084.3 L1400.0,1084.3 L1402.0,1084.3 L1404.0,1084.4 L1406.0,1084.4 L1408.0,1084.4 L1410.0,1084.4 L1412.0,1084.4 L1414.0,1084.4 L1416.0,1084.5 L1418.0,1084.5 L1420.0,1084.5 L1422.0,1084.5 L1424.0,1084.5 L1426.0,1084.6 L1428.0,1084.6 L1430.0,1084.6 L1432.0,1084.6 L1434.0,1084.6 L1436.0,1084.7 L1438.0,1084.7 L1440.0,1084.7 L1442.0,1084.7 L1444.0,1084.7 L1446.0,1084.8 L1448.0,1084.8 L1450.0,1084.8 L1452.0,1084.8 L1454.0,1084.8 L1456.0,1084.9 L1458.0,1084.9 L1460.0,1084.9 L1462.0,1084.9 L1464.0,1085.0 L1466.0,1085.0 L1468.0,1085.0 L1470.0,1085.0 L1472.0,1085.1 L1474.0,1085.1 L1476.0,1085.1 L1478.0,1085.1 L1480.0,1085.1 L1482.0,1085.2 L1484.0,1085.2 L1486.0,1085.2 L1488.0,1085.2 L1490.0,1085.3 L1492.0,1085.3 L1494.0,1085.3 L1496.0,1085.3 L1498.0,1085.4 L1500.0,1085.4 L1502.0,1085.4 L1504.0,1085.4 L1506.0,1085.4 L1508.0,1085.5 L1510.0,1085.5 L1512.0,1085.5 L1514.0,1085.5 L1516.0,1085.6 L1518.0,1085.6 L1520.0,1085.6 L1522.0,1085.6 L1524.0,1085.6 L1526.0,1085.7 L1528.0,1085.7 L1530.0,1085.7 L1532.0,1085.7 L1534.0,1085.7 L1536.0,1085.8 L1538.0,1085.8 L1540.0,1085.8 L1542.0,1085.8 L1544.0,1085.8 L1546.0,1085.8 L1548.0,1085.9 L1550.0,1085.9 L1552.0,1085.9 L1554.0,1085.9 L1556.0,1085.9 L1558.0,1085.9 L1560.0,1085.9 L1562.0,1085.9 L1564.0,1086.0 L1566.0,1086.0 L1568.0,1086.0 L1570.0,1086.0 L1572.0,1086.0 L1574.0,1086.0 L1576.0,1086.0 L1578.0,1086.0 L1580.0,1086.0 L1582.0,1086.0 L1584.0,1086.0 L1586.0,1086.0 L1588.0,1086.0 L1590.0,1086.0 L1592.0,1086.0 L1594.0,1086.0 L1596.0,1086.0 L1598.0,1086.0 L1600.0,1086.0 L1602.0,1086.0 L1604.0,1086.0 L1606.0,1086.0 L1608.0,1086.0 L1610.0,1086.0 L1612.0,1085.9 L1614.0,1085.9 L1616.0,1085.9 L1618.0,1085.9 L1620.0,1085.9 L1622.0,1085.9 L1624.0,1085.9 L1626.0,1085.9 L1628.0,1085.8 L1630.0,1085.8 L1632.0,1085.8 L1634.0,1085.8 L1636.0,1085.8 L1638.0,1085.8 L1640.0,1085.8 L1642.0,1085.7 L1644.0,1085.7 L1646.0,1085.7 L1648.0,1085.7 L1650.0,1085.7 L1652.0,1085.7 L1654.0,1085.6 L1656.0,1085.6 L1658.0,1085.6 L1660.0,1085.6 L1662.0,1085.6 L1664.0,1085.6 L1666.0,1085.5 L1668.0,1085.5 L1670.0,1085.5 L1672.0,1085.5 L1674.0,1085.5 L1676.0,1085.5 L1678.0,1085.4 L1680.0,1085.4 L1682.0,1085.4 L1684.0,1085.4 L1686.0,1085.4 L1688.0,1085.4 L1690.0,1085.4 L1692.0,1085.4 L1694.0,1085.3 L1696.0,1085.3 L1698.0,1085.3 L1700.0,1085.3 L1702.0,1085.3 L1704.0,1085.3 L1706.0,1085.3 L1708.0,1085.3 L1710.0,1085.3 L1712.0,1085.3 L1714.0,1085.3 L1716.0,1085.3 L1718.0,1085.3 L1720.0,1085.3 L1722.0,1085.3 L1724.0,1085.3 L1726.0,1085.3 L1728.0,1085.3 L1730.0,1085.3 L1732.0,1085.3 L1734.0,1085.3 L1736.0,1085.3 L1738.0,1085.3 L1740.0,1085.3 L1742.0,1085.3 L1744.0,1085.3 L1746.0,1085.2 L1748.0,1085.2 L1750.0,1085.2 L1752.0,1085.2 L1754.0,1085.2 L1756.0,1085.2 L1758.0,1085.2 L1760.0,1085.2 L1762.0,1085.2 L1764.0,1085.3 L1766.0,1085.3 L1768.0,1085.3 L1770.0,1085.3 L1772.0,1085.3 L1774.0,1085.3 L1776.0,1085.3 L1778.0,1085.3 L1780.0,1085.3 L1782.0,1085.3 L1784.0,1085.3 L1786.0,1085.3 L1788.0,1085.3 L1790.0,1085.3 L1792.0,1085.3 L1794.0,1085.3 L1796.0,1085.3 L1798.0,1085.3 L1800.0,1085.3 L1802.0,1085.3 L1804.0,1085.3 L1806.0,1085.3 L1808.0,1085.3 L1810.0,1085.3 L1812.0,1085.3 L1814.0,1085.3 L1816.0,1085.3 L1818.0,1085.3 L1820.0,1085.3 L1822.0,1085.3 L1824.0,1085.3 L1826.0,1085.3 L1828.0,1085.3 L1829.9,1085.3 L1831.8,1085.3 L1833.5,1085.3 L1835.0,1085.3"/>
<path stroke="#000000" d="M189.7,799.0 L190.6,800.8 L191.4,802.6 L192.3,804.4 L193.2,806.2 L194.1,808.0 L195.0,809.8 L195.9,811.6 L196.8,813.4 L197.7,815.1 L198.5,816.9 L199.3,818.8 L199.9,820.7 L200.5,822.6 L201.1,824.5 L201.6,826.4 L202.2,828.4 L202.7,830.3 L203.3,832.2 L203.8,834.1 L204.3,836.1 L204.9,838.0 L205.4,839.9 L205.9,841.9 L206.5,843.8 L207.0,845.7 L207.5,847.6 L208.0,849.6 L208.5,851.5 L209.0,853.5 L209.5,855.4 L209.9,857.3 L210.4,859.3 L210.9,861.2 L211.4,863.2 L211.9,865.1 L212.3,867.0 L212.8,869.0 L213.3,870.9 L213.8,872.9 L214.3,874.8 L214.8,876.7 L215.3,878.7 L215.8,880.6 L216.3,882.5 L216.8,884.5 L217.4,886.4 L217.9,888.3 L218.4,890.3 L219.0,892.2 L219.5,894.1 L220.1,896.0 L220.7,897.9 L221.2,899.9 L221.8,901.8 L222.4,903.7 L222.9,905.6 L223.5,907.5 L224.0,909.5 L224.6,911.4 L225.1,913.3 L225.6,915.2 L226.2,917.2 L226.7,919.1 L227.2,921.0 L227.7,923.0 L228.3,924.9 L228.8,926.8 L229.3,928.8 L229.8,930.7 L230.2,932.6 L230.8,934.6 L231.3,936.5 L232.0,938.4 L232.8,940.2 L233.6,942.0 L234.6,943.7 L235.7,945.4 L236.9,947.0 L238.3,948.4 L239.8,949.6 L241.4,950.6 L243.2,951.3 L245.1,951.6 L247.0,951.6 L248.9,951.1 L250.6,950.4 L252.2,949.2 L253.5,947.8 L254.7,946.3 L255.7,944.6 L256.7,942.8 L257.5,941.0 L258.3,939.2 L259.0,937.3 L259.5,935.4 L260.1,933.5 L260.5,931.5 L261.0,929.6 L261.5,927.6 L262.0,925.7 L262.6,923.8 L263.2,921.9 L263.8,920.0 L264.4,918.1 L265.0,916.2 L265.6,914.3 L266.2,912.3 L266.7,910.4 L267.3,908.5 L267.8,906.6 L268.4,904.7 L268.9,902.7 L269.4,900.8 L269.9,898.9 L270.5,896.9 L271.0,895.0 L271.6,893.1 L272.2,891.2 L272.8,889.3 L273.4,887.4 L274.1,885.5 L274.7,883.6 L275.4,881.7 L276.0,879.8 L276.5,877.9 L277.0,875.9 L277.5,874.0 L278.0,872.1 L278.4,870.1 L278.8,868.1 L279.1,866.2 L279.5,864.2 L279.9,862.3 L280.4,860.3 L280.9,858.4 L281.4,856.4 L281.9,854.5 L282.4,852.6 L282.9,850.6 L283.4,848.7 L283.8,846.7 L284.2,844.8 L284.5,842.8 L284.9,840.8 L285.2,838.9 L285.5,836.9 L285.8,834.9 L286.0,832.9 L286.3,830.9 L286.6,829.0 L286.9,827.0 L287.1,825.0 L287.4,823.0 L287.7,821.0 L287.9,819.1 L288.2,817.1 L288.5,815.1 L288.8,813.1 L289.1,811.1 L289.4,809.2 L289.7,807.2 L290.0,805.2 L290.4,803.2 L290.7,801.3 L291.1,799.3 L291.4,797.3 L291.8,795.4 L292.2,793.4 L292.7,791.5 L293.3,789.6 L294.0,787.7 L294.7,785.8 L295.5,784.0 L296.4,782.2 L297.4,780.5 L298.7,779.0 L300.1,777.5 L300.9,775.7 L301.4,773.8 L301.8,771.8 L302.2,769.9 L302.6,767.9 L303.1,766.0 L303.7,764.0 L304.2,762.1 L304.6,760.1 L304.9,758.2 L305.2,756.2 L305.6,754.2 L306.0,752.3 L306.4,750.3 L306.7,748.3 L307.1,746.4 L307.4,744.4 L307.7,742.4 L308.1,740.5 L308.5,738.5 L308.9,736.5 L309.3,734.6 L309.7,732.6 L310.1,730.7 L310.4,728.7 L310.8,726.7 L311.0,724.7 L311.3,722.8 L311.6,720.8 L312.1,718.8 L312.5,716.9 L313.0,714.9 L313.6,713.0 L314.1,711.1 L314.6,709.2 L315.2,707.2 L315.8,705.3 L316.4,703.4 L317.0,701.5 L317.5,699.6 L318.1,697.7 L318.8,695.8 L319.5,693.9 L320.5,692.2 L321.8,690.7 L323.3,689.4 L325.2,688.7 L327.2,688.5 L329.1,688.9 L331.0,689.5 L332.7,690.6 L334.3,691.8 L336.0,692.8 L337.9,693.5 L339.8,693.9 L341.8,694.0 L343.8,693.8 L345.8,693.4 L347.7,692.9 L349.6,692.2 L351.1,690.9 L352.6,689.6 L354.0,688.2 L355.4,686.7 L356.8,685.3 L358.1,683.8 L359.4,682.2 L360.6,680.6 L361.6,679.0 L362.6,677.2 L363.5,675.5 L364.5,673.7 L365.4,671.9 L366.2,670.1 L367.0,668.3 L367.8,666.4 L368.6,664.6 L369.2,662.7 L369.9,660.8 L370.5,658.9 L371.1,657.0 L371.7,655.1 L372.2,653.2 L372.8,651.2 L373.4,649.3 L374.0,647.4 L374.6,645.5 L375.3,643.7 L376.1,641.8 L376.9,640.0 L377.8,638.2 L378.6,636.4 L379.5,634.6 L380.4,632.8 L381.3,631.0 L382.1,629.2 L382.9,627.4 L383.7,625.5 L384.4,623.7 L385.1,621.8 L385.7,619.9 L386.3,618.0 L386.9,616.1 L387.5,614.1 L388.1,612.2 L388.6,610.3 L389.2,608.4 L389.8,606.5 L390.3,604.6 L390.9,602.6 L391.5,600.7 L392.0,598.8 L392.5,596.9 L393.1,594.9 L393.7,593.0 L394.2,591.1 L394.8,589.2 L395.4,587.3 L396.0,585.4 L396.6,583.5 L397.3,581.6 L398.0,579.7 L398.7,577.8 L399.4,576.0 L400.2,574.1 L400.9,572.3 L401.6,570.4 L402.4,568.6 L403.1,566.7 L403.8,564.8 L404.6,563.0 L405.4,561.1 L406.2,559.3 L407.2,557.6 L408.3,555.9 L409.4,554.3 L410.6,552.7 L411.9,551.2 L413.3,549.7 L414.9,548.5 L416.5,547.4 L418.4,546.6 L420.4,546.4 L422.3,546.7 L424.2,547.5 L426.0,548.3 L427.8,549.1 L429.4,550.4 L430.7,551.9 L432.0,553.4 L433.2,555.0 L434.3,556.7 L435.5,558.3 L436.6,559.9 L437.8,561.6 L438.9,563.2 L440.0,564.9 L441.1,566.6 L442.2,568.2 L443.3,569.9 L444.4,571.6 L445.5,573.3 L446.5,575.0 L447.6,576.7 L448.6,578.4 L449.7,580.1 L450.7,581.8 L451.8,583.5 L452.8,585.2 L453.8,586.9 L454.9,588.6 L455.9,590.4 L456.9,592.1 L457.9,593.8 L458.9,595.5 L459.9,597.3 L460.9,599.0 L461.8,600.8 L462.8,602.5 L463.7,604.3 L464.6,606.1 L465.6,607.8 L466.5,609.6 L467.4,611.4 L468.3,613.2 L469.3,614.9 L470.2,616.7 L471.2,618.5 L472.1,620.2 L473.1,622.0 L474.1,623.7 L475.1,625.4 L476.1,627.1 L477.1,628.9 L478.2,630.6 L479.2,632.3 L480.2,634.0 L481.3,635.7 L482.4,637.4 L483.5,639.1 L484.6,640.7 L485.7,642.4 L486.9,644.0 L488.0,645.6 L489.2,647.2 L490.3,648.9 L491.5,650.5 L492.6,652.2 L493.7,653.9 L494.8,655.5 L495.9,657.2 L497.0,658.9 L498.2,660.5 L499.3,662.1 L500.5,663.8 L501.6,665.4 L502.8,667.0 L504.0,668.6 L505.2,670.2 L506.4,671.8 L507.6,673.4 L508.8,675.0 L510.0,676.6 L511.2,678.2 L512.4,679.8 L513.5,681.5 L514.7,683.1 L515.9,684.7 L517.1,686.3 L518.2,687.9 L519.4,689.6 L520.6,691.2 L521.8,692.8 L523.0,694.4 L524.3,695.9 L525.5,697.5 L526.8,699.0 L528.1,700.5 L529.5,702.0 L530.8,703.5 L532.2,704.9 L533.6,706.3 L535.1,707.7 L536.6,709.0 L538.1,710.3 L539.7,711.5 L541.3,712.7 L542.9,713.9 L544.5,715.1 L546.1,716.3 L547.7,717.5 L549.2,718.8 L550.8,720.1 L552.3,721.4 L553.8,722.7 L555.2,724.1 L556.7,725.4 L558.2,726.8 L559.6,728.2 L561.1,729.5 L562.5,730.9 L564.0,732.3 L565.4,733.7 L566.9,735.0 L568.3,736.4 L569.8,737.7 L571.3,739.1 L572.8,740.4 L574.3,741.7 L575.8,743.0 L577.4,744.3 L578.9,745.6 L580.4,746.9 L581.9,748.2 L583.5,749.5 L585.0,750.8 L586.5,752.1 L588.1,753.3 L589.6,754.6 L591.2,755.9 L592.7,757.1 L594.3,758.4 L595.8,759.6 L597.4,760.9 L599.0,762.1 L600.6,763.3 L602.2,764.5 L603.7,765.8 L605.3,767.0 L606.9,768.2 L608.5,769.4 L610.1,770.6 L611.7,771.8 L613.3,773.0 L614.9,774.2 L616.5,775.4 L618.1,776.6 L619.7,777.9 L621.2,779.1 L622.8,780.3 L624.4,781.5 L626.0,782.7 L627.6,783.9 L629.2,785.1 L630.8,786.3 L632.5,787.4 L634.1,788.6 L635.7,789.7 L637.4,790.9 L639.0,792.0 L640.7,793.1 L642.4,794.2 L644.0,795.3 L645.7,796.4 L647.4,797.5 L649.1,798.5 L650.8,799.6 L652.5,800.6 L654.3,801.6 L656.0,802.6 L657.8,803.5 L659.5,804.4 L661.3,805.3 L663.1,806.2 L664.9,807.1 L666.7,808.0 L668.5,808.8 L670.3,809.7 L672.2,810.5 L674.0,811.4 L675.7,812.3 L677.5,813.2 L679.3,814.1 L681.1,815.0 L682.9,815.9 L684.6,816.9 L686.4,817.8 L688.2,818.7 L689.9,819.7 L691.7,820.6 L693.5,821.5 L695.3,822.4 L697.1,823.3 L698.8,824.2 L700.6,825.1 L702.4,826.0 L704.2,826.9 L706.0,827.8 L707.8,828.7 L709.6,829.6 L711.4,830.4 L713.2,831.3 L715.0,832.2 L716.8,833.0 L718.6,833.9 L720.4,834.7 L722.2,835.6 L724.1,836.4 L725.9,837.2 L727.7,838.0 L729.5,838.8 L731.4,839.6 L733.2,840.4 L735.0,841.2 L736.9,842.0 L738.7,842.8 L740.6,843.5 L742.4,844.3 L744.3,845.1 L746.1,845.9 L748.0,846.6 L749.8,847.4 L751.6,848.2 L753.5,849.0 L755.3,849.7 L757.2,850.5 L759.0,851.2 L760.9,852.0 L762.7,852.7 L764.6,853.5 L766.5,854.2 L768.3,854.9 L770.2,855.7 L772.1,856.4 L773.9,857.1 L775.8,857.8 L777.7,858.5 L779.6,859.1 L781.5,859.8 L783.3,860.5 L785.2,861.1 L787.1,861.8 L789.0,862.4 L790.9,863.1 L792.8,863.7 L794.7,864.4 L796.6,865.0 L798.5,865.6 L800.4,866.2 L802.3,866.9 L804.2,867.5 L806.1,868.1 L808.0,868.7 L809.9,869.3 L811.8,869.9 L813.7,870.5 L815.7,871.0 L817.6,871.6 L819.5,872.2 L821.4,872.7 L823.3,873.2 L825.3,873.8 L827.2,874.3 L829.1,874.8 L831.1,875.2 L833.0,875.7 L835.0,876.1 L836.9,876.5 L838.9,876.9 L840.9,877.3 L842.8,877.6 L844.8,878.0 L846.8,878.3 L848.8,878.6 L850.7,878.9 L852.7,879.2 L854.7,879.5 L856.7,879.8 L858.7,880.1 L860.6,880.4 L862.6,880.7 L864.6,881.0 L866.6,881.3 L868.5,881.7 L870.5,882.1 L872.4,882.5 L874.4,882.9 L876.3,883.4 L878.3,883.9 L880.2,884.5 L882.1,885.1 L884.0,885.7 L885.9,886.3 L887.8,887.0 L889.6,887.7 L891.5,888.4 L893.4,889.2 L895.2,889.9 L897.1,890.5 L899.0,891.2 L900.9,891.8 L902.8,892.4 L904.8,892.9 L906.7,893.4 L908.7,893.8 L910.6,894.2 L912.6,894.6 L914.5,895.0 L916.5,895.4 L918.5,895.7 L920.4,896.0 L922.4,896.4 L924.4,896.7 L926.4,897.0 L928.3,897.3 L930.3,897.6 L932.3,898.0 L934.3,898.3 L936.2,898.6 L938.2,899.0 L940.2,899.3 L942.1,899.7 L944.1,900.1 L946.1,900.5 L948.0,900.9 L950.0,901.3 L951.9,901.7 L953.9,902.1 L955.9,902.5 L957.8,902.9 L959.8,903.3 L961.7,903.7 L963.7,904.1 L965.6,904.5 L967.6,904.9 L969.6,905.3 L971.5,905.7 L973.5,906.0 L975.5,906.4 L977.4,906.8 L979.4,907.1 L981.4,907.5 L983.3,907.9 L985.3,908.2 L987.3,908.6 L989.2,908.9 L991.2,909.3 L993.2,909.6 L995.1,910.0 L997.1,910.3 L999.1,910.6 L1001.1,910.9 L1003.0,911.2 L1005.0,911.5 L1007.0,911.8 L1009.0,912.1 L1011.0,912.3 L1013.0,912.6 L1014.9,912.8 L1016.9,913.0 L1018.9,913.2 L1020.9,913.3 L1022.9,913.5 L1024.9,913.7 L1026.9,913.8 L1028.9,913.9 L1030.9,914.1 L1032.9,914.2 L1034.9,914.3 L1036.9,914.4 L1038.9,914.6 L1040.9,914.7 L1042.9,914.8 L1044.9,914.9 L1046.9,915.0 L1048.9,915.1 L1050.9,915.3 L1052.8,915.4 L1054.8,915.5 L1056.8,915.7 L1058.8,915.8 L1060.8,916.0 L1062.8,916.1 L1064.8,916.3 L1066.8,916.5 L1068.8,916.7 L1070.8,916.9 L1072.8,917.1 L1074.8,917.3 L1076.7,917.6 L1078.7,917.8 L1080.7,918.0 L1082.7,918.3 L1084.7,918.5 L1086.7,918.8 L1088.7,919.0 L1090.6,919.3 L1092.6,919.5 L1094.6,919.8 L1096.6,920.0 L1098.6,920.2 L1100.6,920.5 L1102.6,920.7 L1104.5,920.9 L1106.5,921.1 L1108.5,921.3 L1110.5,921.5 L1112.5,921.6 L1114.5,921.7 L1116.5,921.8 L1118.5,921.9 L1120.5,922.0 L1122.5,922.0 L1124.5,922.0 L1126.5,922.0 L1128.5,922.0 L1130.5,922.0 L1132.5,921.9 L1134.5,921.8 L1136.5,921.8 L1138.5,921.7 L1140.5,921.6 L1142.5,921.6 L1144.5,921.5 L1146.5,921.5 L1148.5,921.5 L1150.5,921.5 L1152.5,921.5 L1154.5,921.6 L1156.5,921.7 L1158.5,921.7 L1160.5,921.8 L1162.5,922.0 L1164.5,922.1 L1166.5,922.2 L1168.5,922.3 L1170.5,922.5 L1172.5,922.6 L1174.4,922.8 L1176.4,922.9 L1178.4,923.1 L1180.4,923.3 L1182.4,923.4 L1184.4,923.6 L1186.4,923.7 L1188.4,923.9 L1190.4,924.0 L1192.4,924.2 L1194.4,924.3 L1196.4,924.5 L1198.4,924.6 L1200.4,924.8 L1202.4,924.9 L1204.4,925.1 L1206.4,925.3 L1208.3,925.4 L1210.3,925.6 L1212.3,925.7 L1214.3,925.9 L1216.3,926.1 L1218.3,926.2 L1220.3,926.4 L1222.3,926.5 L1224.3,926.7 L1226.3,926.9 L1228.3,927.0 L1230.3,927.2 L1232.3,927.4 L1234.3,927.5 L1236.3,927.7 L1238.2,927.9 L1240.2,928.0 L1242.2,928.2 L1244.2,928.4 L1246.2,928.5 L1248.2,928.7 L1250.2,928.9 L1252.2,929.0 L1254.2,929.2 L1256.2,929.4 L1258.2,929.6 L1260.2,929.7 L1262.2,929.9 L1264.2,930.1 L1266.1,930.3 L1268.1,930.4 L1270.1,930.6 L1272.1,930.8 L1274.1,930.9 L1276.1,931.1 L1278.1,931.3 L1280.1,931.5 L1282.1,931.6 L1284.1,931.8 L1286.1,932.0 L1288.1,932.1 L1290.1,932.3 L1292.1,932.5 L1294.0,932.6 L1296.0,932.8 L1298.0,933.0 L1300.0,933.1 L1302.0,933.3 L1304.0,933.5 L1306.0,933.6 L1308.0,933.8 L1310.0,934.0 L1312.0,934.1 L1314.0,934.3 L1316.0,934.5 L1318.0,934.6 L1320.0,934.8 L1321.9,935.0 L1323.9,935.1 L1325.9,935.3 L1327.9,935.4 L1329.9,935.6 L1331.9,935.7 L1333.9,935.9 L1335.9,936.0 L1337.9,936.2 L1339.9,936.3 L1341.9,936.4 L1343.9,936.5 L1345.9,936.6 L1347.9,936.7 L1349.9,936.8 L1351.9,936.9 L1353.9,937.0 L1355.9,937.1 L1357.9,937.1 L1359.9,937.2 L1361.9,937.3 L1363.9,937.4 L1365.9,937.4 L1367.9,937.5 L1369.9,937.6 L1371.9,937.7 L1373.9,937.8 L1375.9,937.9 L1377.9,938.0 L1379.8,938.2 L1381.8,938.4 L1383.8,938.6 L1385.8,938.8 L1387.8,939.0 L1389.8,939.2 L1391.8,939.5 L1393.8,939.8 L1395.7,940.0 L1397.7,940.2 L1399.7,940.5 L1401.7,940.7 L1403.7,940.9 L1405.7,941.1 L1407.7,941.3 L1409.7,941.5 L1411.7,941.7 L1413.6,941.9 L1415.6,942.1 L1417.6,942.3 L1419.6,942.5 L1421.6,942.7 L1423.6,942.9 L1425.6,943.1 L1427.6,943.3 L1429.6,943.6 L1431.5,943.8 L1433.5,944.0 L1435.5,944.3 L1437.5,944.5 L1439.5,944.8 L1441.5,945.1 L1443.4,945.5 L1445.4,945.8 L1447.4,946.2 L1449.3,946.6 L1451.3,947.0 L1453.2,947.3 L1455.2,947.7 L1457.2,948.0 L1459.2,948.3 L1461.1,948.6 L1463.1,948.8 L1465.1,949.0 L1467.1,949.2 L1469.1,949.4 L1471.1,949.6 L1473.1,949.7 L1475.1,949.9 L1477.1,950.0 L1479.1,950.1 L1481.1,950.2 L1483.1,950.3 L1485.1,950.5 L1487.1,950.6 L1489.1,950.7 L1491.1,950.8 L1493.1,950.9 L1495.1,950.9 L1497.0,951.0 L1499.0,951.1 L1501.0,951.2 L1503.0,951.3 L1505.0,951.4 L1507.0,951.5 L1509.0,951.6 L1511.0,951.7 L1513.0,951.7 L1515.0,951.8 L1517.0,951.9 L1519.0,952.0 L1521.0,952.1 L1523.0,952.2 L1525.0,952.3 L1527.0,952.4 L1529.0,952.5 L1531.0,952.6 L1533.0,952.7 L1535.0,952.9 L1537.0,953.0 L1539.0,953.1 L1541.0,953.2 L1543.0,953.3 L1545.0,953.5 L1547.0,953.6 L1549.0,953.7 L1551.0,953.8 L1553.0,953.9 L1555.0,954.0 L1557.0,954.1 L1559.0,954.2 L1561.0,954.3 L1563.0,954.4 L1565.0,954.5 L1567.0,954.6 L1569.0,954.6 L1571.0,954.7 L1573.0,954.7 L1575.0,954.8 L1577.0,954.8 L1579.0,954.9 L1581.0,954.9 L1583.0,955.0 L1585.0,955.0 L1587.0,955.0 L1589.0,955.1 L1591.0,955.1 L1593.0,955.1 L1595.0,955.1 L1597.0,955.1 L1599.0,955.2 L1601.0,955.2 L1603.0,955.2 L1605.0,955.2 L1607.0,955.2 L1609.0,955.2 L1611.0,955.3 L1613.0,955.3 L1615.0,955.3 L1617.0,955.3 L1619.0,955.3 L1621.0,955.3 L1623.0,955.3 L1625.0,955.3 L1627.0,955.3 L1629.0,955.3 L1631.0,955.3 L1633.0,955.3 L1635.0,955.3 L1637.0,955.3 L1639.0,955.3 L1641.0,955.3 L1643.0,955.3 L1645.0,955.3 L1647.0,955.3 L1649.0,955.3 L1651.0,955.3 L1653.0,955.3 L1655.0,955.3 L1657.0,955.3 L1659.0,955.2 L1661.0,955.2 L1663.0,955.2 L1665.0,955.2 L1667.0,955.2 L1669.0,955.1 L1671.0,955.1 L1673.0,955.1 L1674.9,955.0 L1676.9,955.0 L1678.9,955.0 L1680.9,954.9 L1682.9,954.9 L1684.9,954.9 L1686.9,954.8 L1688.9,954.8 L1690.9,954.8 L1692.9,954.7 L1694.9,954.7 L1696.9,954.7 L1698.9,954.6 L1700.9,954.6 L1702.9,954.6 L1704.9,954.6 L1706.9,954.6 L1708.9,954.5 L1710.9,954.5 L1712.9,954.5 L1714.9,954.5 L1716.9,954.5 L1718.9,954.5 L1720.9,954.5 L1722.9,954.5 L1724.9,954.5 L1726.9,954.5 L1728.9,954.5 L1730.9,954.5 L1732.9,954.6 L1734.9,954.6 L1736.9,954.6 L1738.9,954.6 L1740.9,954.6 L1742.9,954.7 L1744.9,954.7 L1746.9,954.7 L1748.9,954.7 L1750.9,954.8 L1752.9,954.8 L1754.9,954.8 L1756.9,954.9 L1758.9,954.9 L1760.9,954.9 L1762.9,955.0 L1764.9,955.0 L1766.9,955.0 L1768.9,955.1 L1770.9,955.1 L1772.9,955.1 L1774.9,955.2 L1776.9,955.2 L1778.9,955.2 L1780.9,955.3 L1782.9,955.3 L1784.9,955.4 L1786.9,955.4 L1788.9,955.4 L1790.9,955.5 L1792.9,955.5 L1794.9,955.5 L1796.9,955.6 L1798.9,955.6 L1800.9,955.7 L1802.9,955.7 L1804.9,955.7 L1806.9,955.8 L1808.9,955.8 L1810.9,955.8 L1812.9,955.9 L1814.9,955.9 L1816.9,955.9 L1818.9,956.0 L1820.9,956.0 L1822.9,956.0 L1824.9,956.0 L1826.9,956.1 L1828.9,956.1 L1830.8,956.1 L1832.6,956.1 L1834.2,956.0 L1835.0,956.0"/>
<path stroke="#ff00ff" d="M186.8,631.0 L187.1,633.0 L187.4,635.0 L187.7,636.9 L188.0,638.9 L188.2,640.9 L188.5,642.9 L188.8,644.9 L189.1,646.8 L189.4,648.8 L189.7,650.8 L190.0,652.8 L190.3,654.7 L190.6,656.7 L190.8,658.7 L191.1,660.7 L191.4,662.7 L191.7,664.6 L192.0,666.6 L192.3,668.6 L192.6,670.6 L192.9,672.6 L193.2,674.5 L193.5,676.5 L193.8,678.5 L194.1,680.5 L194.4,682.4 L194.7,684.4 L195.0,686.4 L195.3,688.4 L195.6,690.4 L195.9,692.3 L196.2,694.3 L196.5,696.3 L196.8,698.3 L197.1,700.2 L197.4,702.2 L197.7,704.2 L198.0,706.2 L198.3,708.1 L198.6,710.1 L198.9,712.1 L199.3,714.1 L199.6,716.0 L199.9,718.0 L200.2,720.0 L200.5,722.0 L200.8,723.9 L201.2,725.9 L201.5,727.9 L201.8,729.9 L202.1,731.8 L202.5,733.8 L202.8,735.8 L203.1,737.8 L203.5,739.7 L203.8,741.7 L204.2,743.7 L204.5,745.6 L204.8,747.6 L205.2,749.6 L205.5,751.6 L205.8,753.5 L206.1,755.5 L206.5,757.5 L206.8,759.5 L207.1,761.4 L207.4,763.4 L207.7,765.4 L208.1,767.3 L208.4,769.3 L208.7,771.3 L209.0,773.3 L209.4,775.2 L209.7,777.2 L210.0,779.2 L210.3,781.2 L210.6,783.1 L210.9,785.1 L211.3,787.1 L211.6,789.1 L211.9,791.0 L212.2,793.0 L212.5,795.0 L212.9,797.0 L213.2,798.9 L213.5,800.9 L213.8,802.9 L214.2,804.9 L214.5,806.8 L214.8,808.8 L215.2,810.8 L215.5,812.7 L215.9,814.7 L216.2,816.7 L216.6,818.6 L216.9,820.6 L217.3,822.6 L217.6,824.6 L218.0,826.5 L218.4,828.5 L218.7,830.4 L219.1,832.4 L219.5,834.4 L220.0,836.3 L220.4,838.3 L220.8,840.2 L221.3,842.2 L221.8,844.1 L222.3,846.0 L222.8,848.0 L223.2,849.9 L223.7,851.9 L224.2,853.8 L224.7,855.8 L225.2,857.7 L225.6,859.6 L226.1,861.6 L226.6,863.5 L227.1,865.5 L227.6,867.4 L228.1,869.3 L228.7,871.2 L229.3,873.1 L229.9,875.0 L230.6,876.9 L231.2,878.8 L231.9,880.7 L232.5,882.6 L233.2,884.5 L233.8,886.4 L234.4,888.3 L235.1,890.2 L235.7,892.1 L236.3,894.0 L237.0,895.9 L237.7,897.7 L238.5,899.6 L239.3,901.4 L240.2,903.2 L241.1,905.0 L242.1,906.7 L243.2,908.3 L244.5,909.8 L245.9,911.2 L247.5,912.2 L249.2,912.8 L251.1,912.9 L252.8,912.5 L254.5,911.6 L256.0,910.4 L257.3,908.9 L258.5,907.3 L259.6,905.7 L260.7,904.0 L261.7,902.3 L262.7,900.5 L263.6,898.8 L264.5,897.0 L265.4,895.2 L266.1,893.3 L266.8,891.5 L267.4,889.6 L268.0,887.6 L268.6,885.7 L269.1,883.8 L269.7,881.9 L270.2,879.9 L270.7,878.0 L271.3,876.1 L271.8,874.2 L272.3,872.2 L272.8,870.3 L273.3,868.4 L273.8,866.4 L274.3,864.5 L274.7,862.5 L275.2,860.6 L275.6,858.6 L276.1,856.7 L276.5,854.7 L276.9,852.8 L277.3,850.8 L277.7,848.8 L278.1,846.9 L278.5,844.9 L278.8,843.0 L279.2,841.0 L279.6,839.0 L279.9,837.1 L280.3,835.1 L280.6,833.1 L281.0,831.2 L281.4,829.2 L281.7,827.2 L282.1,825.3 L282.4,823.3 L282.8,821.3 L283.1,819.3 L283.5,817.4 L283.8,815.4 L284.2,813.4 L284.5,811.5 L284.8,809.5 L285.2,807.5 L285.5,805.5 L285.8,803.6 L286.0,801.6 L286.3,799.6 L286.5,797.6 L286.7,795.6 L287.0,793.6 L287.2,791.6 L287.4,789.7 L287.6,787.7 L287.8,785.7 L288.0,783.7 L288.2,781.7 L288.4,779.7 L288.6,777.7 L289.0,775.8 L289.2,773.8 L289.4,771.8 L289.5,769.8 L289.7,767.8 L289.9,765.8 L290.0,763.8 L290.2,761.8 L290.4,759.8 L290.7,757.8 L291.1,755.9 L291.5,753.9 L292.0,752.0 L292.6,750.1 L293.5,748.3 L294.7,746.7 L296.3,745.5 L296.7,747.0 L296.9,749.0 L297.1,751.0 L297.4,753.0 L297.6,755.0 L297.8,756.9 L297.9,758.9 L298.1,760.9 L298.2,762.9 L298.3,764.9 L298.5,766.9 L298.7,768.5 L300.0,767.0 L301.2,765.4 L302.0,763.6 L302.9,761.8 L303.7,759.9 L304.1,758.0 L304.4,756.0 L304.7,754.0 L304.8,752.0 L305.0,750.0 L305.1,748.0 L305.3,746.0 L305.4,744.1 L305.6,742.1 L305.7,740.1 L305.9,738.1 L306.0,736.1 L306.2,734.1 L306.3,732.1 L306.5,730.1 L306.6,728.1 L306.8,726.1 L307.0,724.1 L307.3,722.1 L307.5,720.1 L307.7,718.2 L307.9,716.2 L308.1,714.2 L308.3,712.2 L308.5,710.2 L308.7,708.2 L308.9,706.2 L309.2,704.2 L309.4,702.2 L309.6,700.3 L309.9,698.3 L310.1,696.3 L310.4,694.3 L310.6,692.3 L310.8,690.3 L311.0,688.3 L311.3,686.4 L311.5,684.4 L311.7,682.4 L311.9,680.4 L312.1,678.4 L312.2,676.4 L312.4,674.4 L312.6,672.4 L312.8,670.4 L313.0,668.4 L313.1,666.4 L313.3,664.5 L313.5,662.5 L313.7,660.5 L313.9,658.5 L314.1,656.5 L314.3,654.5 L314.5,652.5 L314.7,650.5 L314.9,648.5 L315.1,646.5 L315.3,644.5 L315.5,642.6 L315.7,640.6 L315.9,638.6 L316.1,636.6 L316.3,634.6 L316.5,632.6 L316.7,630.6 L317.0,628.6 L317.2,626.7 L317.4,624.7 L317.6,622.7 L317.9,620.7 L318.1,618.7 L318.4,616.7 L318.6,614.7 L318.9,612.8 L319.1,610.8 L319.4,608.8 L319.6,606.8 L319.9,604.8 L320.2,602.8 L320.4,600.9 L320.7,598.9 L321.0,596.9 L321.3,594.9 L321.5,592.9 L321.8,591.0 L322.1,589.0 L322.4,587.0 L322.7,585.0 L323.0,583.0 L323.4,581.1 L323.7,579.1 L324.1,577.1 L324.5,575.2 L324.8,573.2 L325.2,571.2 L325.5,569.3 L325.9,567.3 L326.2,565.3 L326.6,563.4 L327.0,561.4 L327.4,559.4 L327.8,557.5 L328.1,555.5 L328.5,553.6 L328.9,551.6 L329.4,549.6 L329.8,547.7 L330.2,545.7 L330.7,543.8 L331.2,541.9 L331.7,539.9 L332.2,538.0 L332.7,536.1 L333.3,534.1 L333.9,532.2 L334.5,530.3 L335.1,528.4 L335.7,526.5 L336.4,524.6 L337.1,522.8 L337.8,520.9 L338.5,519.0 L339.3,517.2 L340.0,515.3 L340.8,513.5 L341.5,511.6 L342.2,509.7 L342.9,507.8 L343.6,506.0 L344.2,504.1 L344.9,502.2 L345.5,500.3 L346.2,498.4 L346.8,496.5 L347.5,494.6 L348.1,492.7 L348.7,490.8 L349.3,488.9 L350.0,487.0 L350.6,485.1 L351.2,483.2 L351.8,481.3 L352.3,479.4 L352.9,477.5 L353.4,475.5 L353.8,473.6 L354.3,471.6 L354.7,469.7 L355.1,467.7 L355.5,465.8 L355.9,463.8 L356.3,461.8 L356.7,459.9 L357.1,457.9 L357.6,456.0 L358.0,454.0 L358.4,452.1 L358.8,450.1 L359.2,448.1 L359.6,446.2 L360.0,444.2 L360.4,442.3 L360.8,440.3 L361.1,438.3 L361.5,436.4 L361.8,434.4 L362.1,432.4 L362.4,430.4 L362.6,428.4 L362.9,426.5 L363.1,424.5 L363.3,422.5 L363.6,420.5 L363.8,418.5 L364.0,416.5 L364.2,414.5 L364.5,412.5 L364.7,410.6 L365.0,408.6 L365.3,406.6 L365.6,404.6 L366.0,402.7 L366.3,400.7 L366.7,398.7 L367.0,396.7 L367.3,394.8 L367.6,392.8 L367.8,390.8 L368.0,388.8 L368.3,386.8 L368.5,384.8 L368.7,382.8 L368.8,380.9 L369.1,378.9 L369.3,376.9 L369.5,374.9 L369.7,372.9 L370.0,370.9 L370.2,368.9 L370.5,367.0 L370.7,365.0 L371.0,363.0 L371.3,361.0 L371.5,359.0 L371.9,357.0 L372.2,355.1 L372.6,353.1 L373.3,351.3 L374.4,349.6 L376.1,349.7 L377.0,351.5 L377.4,353.5 L377.6,355.5 L377.8,357.5 L377.9,359.5 L378.0,361.5 L378.1,363.5 L378.3,365.4 L378.4,367.4 L378.6,369.4 L378.7,371.4 L378.8,373.4 L378.9,375.4 L379.0,377.4 L379.1,379.4 L379.2,381.4 L379.3,383.4 L379.4,385.4 L379.5,387.4 L379.7,389.4 L379.9,391.4 L380.1,393.4 L380.5,395.4 L380.8,397.3 L381.2,399.3 L381.8,401.2 L382.4,403.1 L383.0,405.0 L383.8,406.9 L384.7,408.6 L386.3,409.3 L387.3,407.6 L388.1,405.7 L388.8,403.8 L389.5,402.0 L390.2,400.1 L390.9,398.2 L391.6,396.3 L392.3,394.5 L393.0,392.6 L393.8,390.8 L394.7,389.0 L395.6,387.2 L396.7,385.5 L398.0,384.0 L399.6,382.8 L401.4,381.9 L403.3,381.4 L405.2,381.3 L407.1,381.6 L409.0,382.1 L410.8,382.9 L412.4,383.9 L414.0,385.1 L415.4,386.5 L416.7,388.0 L418.0,389.6 L419.2,391.1 L420.4,392.7 L421.6,394.3 L422.8,396.0 L423.9,397.6 L425.0,399.3 L426.1,401.0 L427.2,402.6 L428.2,404.3 L429.3,406.0 L430.3,407.8 L431.4,409.5 L432.4,411.2 L433.4,412.9 L434.5,414.6 L435.5,416.3 L436.5,418.0 L437.6,419.7 L438.6,421.4 L439.7,423.1 L440.8,424.8 L441.9,426.5 L443.0,428.1 L444.1,429.8 L445.2,431.5 L446.3,433.1 L447.5,434.8 L448.6,436.4 L449.7,438.1 L450.9,439.7 L452.0,441.3 L453.2,443.0 L454.3,444.6 L455.5,446.2 L456.7,447.8 L457.8,449.5 L459.0,451.1 L460.2,452.7 L461.4,454.3 L462.6,455.9 L463.8,457.5 L465.0,459.1 L466.3,460.6 L467.5,462.2 L468.7,463.8 L470.0,465.4 L471.2,466.9 L472.5,468.5 L473.7,470.1 L475.0,471.6 L476.2,473.2 L477.4,474.8 L478.7,476.3 L479.9,477.9 L481.1,479.5 L482.3,481.1 L483.6,482.7 L484.8,484.3 L486.0,485.9 L487.2,487.5 L488.4,489.1 L489.6,490.7 L490.8,492.3 L492.0,493.9 L493.2,495.5 L494.4,497.1 L495.5,498.7 L496.7,500.3 L497.9,501.9 L499.1,503.5 L500.3,505.1 L501.4,506.8 L502.6,508.4 L503.8,510.0 L504.9,511.6 L506.1,513.3 L507.3,514.9 L508.4,516.5 L509.6,518.2 L510.7,519.8 L511.9,521.4 L513.0,523.1 L514.2,524.7 L515.3,526.4 L516.4,528.0 L517.6,529.6 L518.7,531.3 L519.9,532.9 L521.0,534.6 L522.1,536.2 L523.3,537.9 L524.4,539.5 L525.5,541.2 L526.6,542.9 L527.7,544.6 L528.7,546.2 L529.9,547.9 L531.1,549.5 L532.3,551.0 L533.6,552.6 L535.0,554.0 L536.6,555.2 L538.5,555.2 L540.1,554.0 L541.6,552.7 L543.3,551.6 L544.8,550.3 L546.6,549.4 L548.4,550.0 L549.9,551.3 L551.2,552.9 L552.5,554.4 L553.8,555.9 L555.1,557.4 L556.4,558.9 L557.7,560.4 L559.0,561.9 L560.3,563.5 L561.6,565.0 L562.8,566.6 L564.1,568.1 L565.3,569.7 L566.5,571.3 L567.7,572.9 L568.8,574.6 L570.0,576.2 L571.1,577.8 L572.3,579.4 L573.5,581.0 L574.8,582.6 L576.0,584.1 L577.3,585.6 L578.7,587.1 L580.0,588.6 L581.4,590.1 L582.7,591.6 L584.1,593.1 L585.4,594.5 L586.8,596.0 L588.2,597.4 L589.5,598.9 L590.9,600.3 L592.3,601.8 L593.7,603.2 L595.1,604.7 L596.4,606.1 L597.8,607.6 L599.2,609.0 L600.6,610.5 L602.0,611.9 L603.4,613.3 L604.8,614.8 L606.1,616.2 L607.5,617.6 L608.9,619.1 L610.3,620.5 L611.7,621.9 L613.1,623.4 L614.5,624.8 L615.9,626.2 L617.3,627.6 L618.7,629.1 L620.2,630.5 L621.6,631.9 L623.0,633.3 L624.4,634.8 L625.8,636.2 L627.2,637.6 L628.6,639.0 L630.0,640.4 L631.4,641.9 L632.8,643.3 L634.2,644.7 L635.7,646.1 L637.1,647.5 L638.5,648.9 L639.9,650.3 L641.3,651.7 L642.8,653.1 L644.2,654.5 L645.7,655.9 L647.1,657.3 L648.5,658.7 L650.0,660.0 L651.4,661.4 L652.9,662.8 L654.3,664.2 L655.8,665.6 L657.2,667.0 L658.7,668.3 L660.1,669.7 L661.5,671.1 L663.0,672.5 L664.4,673.9 L665.8,675.3 L667.3,676.7 L668.7,678.1 L670.1,679.5 L671.5,680.9 L673.0,682.3 L674.4,683.7 L675.8,685.1 L677.3,686.5 L678.7,687.9 L680.1,689.3 L681.6,690.7 L683.0,692.1 L684.4,693.5 L685.8,694.9 L687.3,696.3 L688.7,697.7 L690.1,699.1 L691.5,700.5 L693.0,701.9 L694.4,703.3 L695.8,704.7 L697.2,706.1 L698.6,707.6 L700.1,709.0 L701.5,710.4 L702.9,711.8 L704.3,713.2 L705.7,714.6 L707.1,716.0 L708.5,717.5 L709.9,718.9 L711.3,720.3 L712.7,721.7 L714.1,723.2 L715.5,724.6 L716.9,726.0 L718.3,727.5 L719.7,728.9 L721.1,730.3 L722.5,731.7 L723.9,733.2 L725.3,734.6 L726.7,736.0 L728.1,737.5 L729.5,738.9 L730.9,740.3 L732.3,741.8 L733.7,743.2 L735.1,744.6 L736.5,746.0 L737.9,747.5 L739.3,748.9 L740.7,750.3 L742.1,751.7 L743.6,753.1 L745.0,754.6 L746.4,756.0 L747.8,757.4 L749.2,758.8 L750.6,760.2 L752.1,761.6 L753.5,763.0 L754.9,764.4 L756.3,765.8 L757.8,767.2 L759.2,768.6 L760.6,770.0 L762.0,771.4 L763.5,772.8 L764.9,774.2 L766.3,775.6 L767.8,777.0 L769.2,778.4 L770.6,779.8 L772.1,781.2 L773.5,782.6 L774.9,784.0 L776.4,785.4 L777.8,786.7 L779.3,788.1 L780.7,789.5 L782.2,790.9 L783.6,792.3 L785.1,793.6 L786.6,795.0 L788.0,796.4 L789.5,797.7 L791.0,799.0 L792.5,800.4 L793.9,801.7 L795.4,803.0 L797.0,804.4 L798.5,805.7 L800.0,807.0 L801.5,808.3 L803.0,809.6 L804.5,810.9 L806.1,812.1 L807.6,813.4 L809.2,814.7 L810.7,815.9 L812.3,817.2 L813.8,818.5 L815.4,819.7 L817.0,821.0 L818.5,822.2 L820.1,823.5 L821.6,824.7 L823.2,826.0 L824.7,827.2 L826.3,828.5 L827.8,829.8 L829.4,831.0 L830.9,832.3 L832.5,833.6 L834.1,834.8 L835.6,836.1 L837.2,837.3 L838.7,838.6 L840.3,839.8 L841.9,841.0 L843.5,842.2 L845.1,843.5 L846.6,844.7 L848.2,845.9 L849.8,847.1 L851.4,848.3 L853.0,849.5 L854.6,850.7 L856.2,851.9 L857.9,853.1 L859.5,854.2 L861.1,855.4 L862.8,856.5 L864.5,857.5 L866.2,858.5 L868.0,859.5 L869.8,860.4 L871.5,861.3 L873.3,862.2 L875.0,863.2 L876.7,864.3 L878.3,865.5 L879.9,866.6 L881.6,867.8 L883.2,869.0 L884.8,870.1 L886.5,871.3 L888.1,872.4 L889.7,873.6 L891.4,874.7 L893.0,875.9 L894.6,877.0 L896.3,878.2 L897.9,879.3 L899.6,880.5 L901.2,881.6 L902.9,882.7 L904.6,883.8 L906.3,884.8 L908.0,885.9 L909.7,886.9 L911.4,888.0 L913.1,889.0 L914.8,890.0 L916.6,891.0 L918.3,891.9 L920.1,892.9 L921.8,893.9 L923.6,894.8 L925.4,895.7 L927.1,896.7 L928.9,897.6 L930.7,898.5 L932.5,899.3 L934.3,900.2 L936.1,901.0 L937.9,901.9 L939.8,902.7 L941.6,903.6 L943.4,904.4 L945.2,905.2 L947.0,906.1 L948.8,907.0 L950.6,907.8 L952.4,908.7 L954.2,909.5 L956.0,910.4 L957.8,911.2 L959.6,912.1 L961.5,913.0 L963.3,913.8 L965.1,914.7 L966.9,915.6 L968.7,916.4 L970.4,917.3 L972.2,918.2 L974.0,919.1 L975.8,920.1 L977.6,921.0 L979.4,921.9 L981.2,922.7 L983.0,923.6 L984.8,924.4 L986.6,925.2 L988.5,926.0 L990.3,926.8 L992.1,927.6 L994.0,928.4 L995.8,929.1 L997.7,929.9 L999.5,930.7 L1001.4,931.4 L1003.2,932.2 L1005.1,932.9 L1006.9,933.7 L1008.8,934.4 L1010.6,935.2 L1012.5,935.9 L1014.4,936.6 L1016.2,937.4 L1018.1,938.1 L1019.9,938.8 L1021.8,939.6 L1023.7,940.3 L1025.5,941.0 L1027.4,941.8 L1029.3,942.5 L1031.1,943.2 L1033.0,943.9 L1034.9,944.6 L1036.7,945.3 L1038.6,946.0 L1040.5,946.7 L1042.4,947.4 L1044.3,948.0 L1046.1,948.7 L1048.0,949.4 L1049.9,950.0 L1051.8,950.7 L1053.7,951.3 L1055.6,952.0 L1057.5,952.6 L1059.4,953.2 L1061.3,953.8 L1063.2,954.4 L1065.1,955.0 L1067.0,955.6 L1069.0,956.1 L1070.9,956.7 L1072.8,957.2 L1074.7,957.7 L1076.7,958.3 L1078.6,958.8 L1080.6,959.2 L1082.5,959.7 L1084.5,960.1 L1086.4,960.5 L1088.4,960.9 L1090.3,961.3 L1092.3,961.7 L1094.3,962.1 L1096.2,962.4 L1098.2,962.8 L1100.2,963.2 L1102.1,963.5 L1104.1,963.9 L1106.1,964.3 L1108.0,964.6 L1110.0,965.0 L1111.9,965.4 L1113.9,965.9 L1115.8,966.3 L1117.8,966.8 L1119.7,967.3 L1121.6,967.8 L1123.6,968.4 L1125.5,969.0 L1127.4,969.5 L1129.3,970.1 L1131.2,970.7 L1133.1,971.3 L1135.0,971.9 L1137.0,972.4 L1138.9,973.0 L1140.8,973.5 L1142.8,974.0 L1144.7,974.5 L1146.6,975.0 L1148.6,975.5 L1150.5,976.0 L1152.5,976.4 L1154.4,976.9 L1156.4,977.3 L1158.3,977.8 L1160.3,978.2 L1162.2,978.7 L1164.2,979.1 L1166.1,979.6 L1168.1,980.0 L1170.0,980.4 L1172.0,980.9 L1173.9,981.3 L1175.9,981.7 L1177.8,982.1 L1179.8,982.5 L1181.8,982.9 L1183.7,983.3 L1185.7,983.6 L1187.7,983.9 L1189.6,984.2 L1191.6,984.5 L1193.6,984.8 L1195.6,985.1 L1197.6,985.4 L1199.5,985.7 L1201.5,986.0 L1203.5,986.2 L1205.5,986.5 L1207.5,986.8 L1209.4,987.0 L1211.4,987.3 L1213.4,987.6 L1215.4,987.8 L1217.4,988.1 L1219.4,988.3 L1221.3,988.6 L1223.3,988.8 L1225.3,989.1 L1227.3,989.3 L1229.3,989.6 L1231.3,989.8 L1233.2,990.1 L1235.2,990.3 L1237.2,990.6 L1239.2,990.8 L1241.2,991.0 L1243.2,991.3 L1245.2,991.5 L1247.1,991.7 L1249.1,992.0 L1251.1,992.2 L1253.1,992.4 L1255.1,992.6 L1257.1,992.9 L1259.1,993.1 L1261.1,993.3 L1263.1,993.5 L1265.0,993.7 L1267.0,993.9 L1269.0,994.2 L1271.0,994.4 L1273.0,994.6 L1275.0,994.8 L1277.0,995.0 L1279.0,995.2 L1280.9,995.4 L1282.9,995.6 L1284.9,995.9 L1286.9,996.1 L1288.9,996.3 L1290.9,996.5 L1292.9,996.7 L1294.9,996.9 L1296.9,997.2 L1298.8,997.4 L1300.8,997.6 L1302.8,997.8 L1304.8,998.1 L1306.8,998.3 L1308.8,998.5 L1310.8,998.7 L1312.8,999.0 L1314.7,999.2 L1316.7,999.4 L1318.7,999.6 L1320.7,999.8 L1322.7,1000.1 L1324.7,1000.3 L1326.7,1000.5 L1328.7,1000.7 L1330.6,1000.9 L1332.6,1001.1 L1334.6,1001.3 L1336.6,1001.5 L1338.6,1001.7 L1340.6,1001.9 L1342.6,1002.0 L1344.6,1002.2 L1346.6,1002.4 L1348.6,1002.6 L1350.6,1002.7 L1352.6,1002.9 L1354.5,1003.1 L1356.5,1003.2 L1358.5,1003.4 L1360.5,1003.6 L1362.5,1003.7 L1364.5,1003.9 L1366.5,1004.0 L1368.5,1004.2 L1370.5,1004.3 L1372.5,1004.5 L1374.5,1004.6 L1376.5,1004.8 L1378.5,1005.0 L1380.5,1005.1 L1382.5,1005.3 L1384.5,1005.4 L1386.5,1005.6 L1388.4,1005.7 L1390.4,1005.9 L1392.4,1006.0 L1394.4,1006.2 L1396.4,1006.3 L1398.4,1006.5 L1400.4,1006.6 L1402.4,1006.8 L1404.4,1006.9 L1406.4,1007.1 L1408.4,1007.3 L1410.4,1007.4 L1412.4,1007.6 L1414.4,1007.7 L1416.4,1007.9 L1418.4,1008.1 L1420.3,1008.2 L1422.3,1008.4 L1424.3,1008.5 L1426.3,1008.7 L1428.3,1008.9 L1430.3,1009.0 L1432.3,1009.2 L1434.3,1009.3 L1436.3,1009.5 L1438.3,1009.6 L1440.3,1009.8 L1442.3,1010.0 L1444.3,1010.1 L1446.3,1010.3 L1448.3,1010.4 L1450.3,1010.6 L1452.3,1010.7 L1454.2,1010.9 L1456.2,1011.0 L1458.2,1011.1 L1460.2,1011.3 L1462.2,1011.4 L1464.2,1011.6 L1466.2,1011.7 L1468.2,1011.8 L1470.2,1012.0 L1472.2,1012.1 L1474.2,1012.2 L1476.2,1012.4 L1478.2,1012.5 L1480.2,1012.6 L1482.2,1012.7 L1484.2,1012.9 L1486.2,1013.0 L1488.2,1013.1 L1490.2,1013.2 L1492.2,1013.3 L1494.2,1013.5 L1496.2,1013.6 L1498.2,1013.7 L1500.2,1013.8 L1502.1,1013.9 L1504.1,1014.0 L1506.1,1014.1 L1508.1,1014.2 L1510.1,1014.3 L1512.1,1014.4 L1514.1,1014.5 L1516.1,1014.6 L1518.1,1014.7 L1520.1,1014.8 L1522.1,1014.9 L1524.1,1015.0 L1526.1,1015.1 L1528.1,1015.2 L1530.1,1015.3 L1532.1,1015.4 L1534.1,1015.5 L1536.1,1015.6 L1538.1,1015.7 L1540.1,1015.8 L1542.1,1015.9 L1544.1,1016.0 L1546.1,1016.0 L1548.1,1016.1 L1550.1,1016.2 L1552.1,1016.3 L1554.1,1016.4 L1556.1,1016.4 L1558.1,1016.5 L1560.1,1016.6 L1562.1,1016.7 L1564.1,1016.7 L1566.1,1016.8 L1568.1,1016.9 L1570.1,1016.9 L1572.1,1017.0 L1574.1,1017.1 L1576.1,1017.1 L1578.1,1017.1 L1580.1,1017.2 L1582.1,1017.2 L1584.1,1017.2 L1586.1,1017.3 L1588.1,1017.3 L1590.1,1017.3 L1592.1,1017.3 L1594.1,1017.3 L1596.1,1017.4 L1598.1,1017.4 L1600.1,1017.4 L1602.1,1017.4 L1604.1,1017.4 L1606.1,1017.4 L1608.1,1017.4 L1610.1,1017.5 L1612.1,1017.5 L1614.1,1017.5 L1616.1,1017.5 L1618.1,1017.5 L1620.1,1017.5 L1622.1,1017.5 L1624.1,1017.5 L1626.1,1017.5 L1628.1,1017.5 L1630.1,1017.5 L1632.1,1017.5 L1634.1,1017.5 L1636.1,1017.5 L1638.1,1017.5 L1640.1,1017.5 L1642.1,1017.5 L1644.1,1017.5 L1646.1,1017.5 L1648.1,1017.5 L1650.1,1017.5 L1652.1,1017.5 L1654.1,1017.5 L1656.1,1017.5 L1658.1,1017.5 L1660.1,1017.5 L1662.1,1017.5 L1664.1,1017.5 L1666.1,1017.5 L1668.1,1017.5 L1670.1,1017.5 L1672.1,1017.5 L1674.1,1017.5 L1676.1,1017.5 L1678.1,1017.5 L1680.1,1017.5 L1682.1,1017.4 L1684.1,1017.4 L1686.1,1017.4 L1688.1,1017.4 L1690.1,1017.4 L1692.1,1017.4 L1694.1,1017.4 L1696.1,1017.4 L1698.1,1017.4 L1700.1,1017.4 L1702.1,1017.4 L1704.1,1017.4 L1706.1,1017.4 L1708.1,1017.4 L1710.1,1017.4 L1712.1,1017.4 L1714.1,1017.4 L1716.1,1017.3 L1718.1,1017.3 L1720.1,1017.3 L1722.1,1017.3 L1724.1,1017.3 L1726.1,1017.3 L1728.1,1017.3 L1730.1,1017.3 L1732.1,1017.3 L1734.1,1017.3 L1736.1,1017.3 L1738.1,1017.3 L1740.1,1017.2 L1742.1,1017.2 L1744.1,1017.2 L1746.1,1017.2 L1748.1,1017.2 L1750.1,1017.2 L1752.1,1017.2 L1754.1,1017.2 L1756.1,1017.2 L1758.1,1017.2 L1760.1,1017.1 L1762.1,1017.1 L1764.1,1017.1 L1766.1,1017.1 L1768.1,1017.1 L1770.1,1017.1 L1772.1,1017.1 L1774.1,1017.1 L1776.1,1017.1 L1778.1,1017.1 L1780.1,1017.0 L1782.1,1017.0 L1784.1,1017.0 L1786.1,1017.0 L1788.1,1017.0 L1790.1,1017.0 L1792.1,1017.0 L1794.1,1017.0 L1796.1,1017.0 L1798.1,1016.9 L1800.1,1016.9 L1802.1,1016.9 L1804.1,1016.9 L1806.1,1016.9 L1808.1,1016.9 L1810.1,1016.9 L1812.1,1016.9 L1814.1,1016.9 L1816.1,1016.8 L1818.1,1016.8 L1820.1,1016.8 L1822.1,1016.8 L1824.1,1016.8 L1826.1,1016.8 L1828.1,1016.8 L1830.1,1016.8 L1832.0,1016.8 L1833.9,1016.8 L1835.4,1016.8 L1836.2,1016.8 L1836.1,1016.8 L1835.5,1016.8 L1835.0,1016.8"/>
</g>
<text transform="translate(189.55,1363.2) scale(1,1.055)" font-size="76" text-anchor="middle">300</text>
<text transform="translate(462.29,1363.2) scale(1,1.055)" font-size="76" text-anchor="middle">400</text>
<text transform="translate(735.03,1363.2) scale(1,1.055)" font-size="76" text-anchor="middle">500</text>
<text transform="translate(1007.78,1363.2) scale(1,1.055)" font-size="76" text-anchor="middle">600</text>
<text transform="translate(1280.52,1363.2) scale(1,1.055)" font-size="76" text-anchor="middle">700</text>
<text transform="translate(1553.26,1363.2) scale(1,1.055)" font-size="76" text-anchor="middle">800</text>
<text transform="translate(1826.0,1363.2) scale(1,1.055)" font-size="76" text-anchor="middle">900</text>
<text transform="translate(1008.0,1470.3) scale(1,1.03)" font-size="74.8" text-anchor="middle">Wavelength (nm)</text>
<text transform="translate(91,688) rotate(-90) scale(1,1.01)" font-size="76.7" text-anchor="middle">Absorbance (a.u.)</text>
<line x1="1134.2" y1="231.5" x2="1280.1" y2="231.5" stroke="#ff00ff" stroke-width="12.3" stroke-linecap="round"/>
<text transform="translate(1292.0,252.1) scale(1,1.035)" font-size="75.7" text-anchor="start">20 min</text>
<line x1="1134.2" y1="328.5" x2="1280.1" y2="328.5" stroke="#000000" stroke-width="12.3" stroke-linecap="round"/>
<text transform="translate(1297.6,349.1) scale(1,1.035)" font-size="75.7" text-anchor="start">16 min</text>
<line x1="1134.2" y1="425.4" x2="1280.1" y2="425.4" stroke="#008080" stroke-width="12.3" stroke-linecap="round"/>
<text transform="translate(1297.6,446.0) scale(1,1.035)" font-size="75.7" text-anchor="start">14 min</text>
<line x1="1134.2" y1="522.3" x2="1280.1" y2="522.3" stroke="#0000ff" stroke-width="12.3" stroke-linecap="round"/>
<text transform="translate(1297.6,542.9) scale(1,1.035)" font-size="75.7" text-anchor="start">12 min</text>
<line x1="1134.2" y1="619.2" x2="1280.1" y2="619.2" stroke="#ff0000" stroke-width="12.3" stroke-linecap="round"/>
<text transform="translate(1297.6,639.8) scale(1,1.035)" font-size="75.7" text-anchor="start">10 min</text>
</svg>
</body></html>
